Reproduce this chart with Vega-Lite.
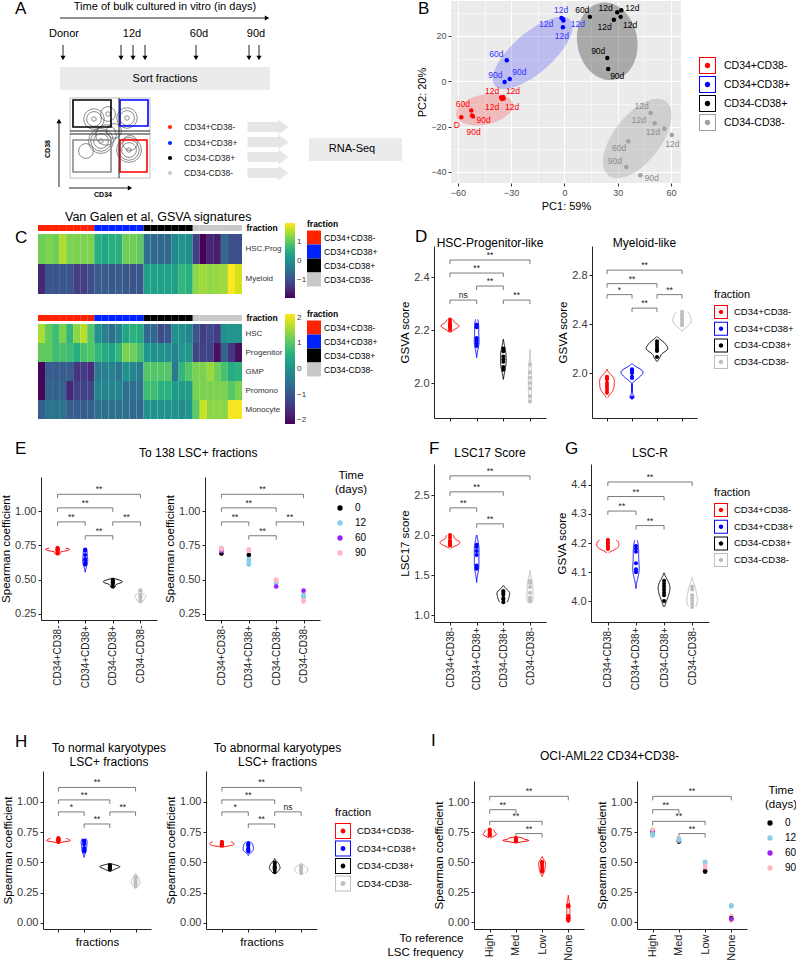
{
"$schema":"https://vega.github.io/schema/vega-lite/v6.json",
"padding":0,
"autosize":{"type":"pad"},
"background":"white",
"config":{"font":"Liberation Sans","view":{"stroke":null},
"axis":{"domainColor":"#222222","tickColor":"#222222","labelColor":"#3a3a3a","titleColor":"#000000","titleFontWeight":"normal","grid":false,"tickSize":3,"labelFontSize":11,"titleFontSize":11.5,"titlePadding":3,"labelPadding":2},
"legend":{"titleFontWeight":"normal","labelColor":"#000000","titleColor":"#000000"},
"title":{"fontWeight":"normal","fontSize":12,"color":"#000000"}},
"datasets":{
"pca":[
{"f":"CD34+CD38-","t":"D","x":-58.1,"y":-15.9,"lx":-60.6,"ly":-19.4},
{"f":"CD34+CD38-","t":"60d","x":-52.5,"y":-12.9,"lx":-57.2,"ly":-10.0},
{"f":"CD34+CD38-","t":"90d","x":-52.1,"y":-15.1,"lx":-45.5,"ly":-16.9},
{"f":"CD34+CD38-","t":"90d","x":-51.5,"y":-15.6,"lx":-51.2,"ly":-22.5},
{"f":"CD34+CD38-","t":"12d","x":-35.7,"y":-7.2,"lx":-40.8,"ly":-4.1},
{"f":"CD34+CD38-","t":"12d","x":-34.6,"y":-6.9,"lx":-29.0,"ly":-4.1},
{"f":"CD34+CD38-","t":"12d","x":-35.2,"y":-7.8,"lx":-40.8,"ly":-11.5},
{"f":"CD34+CD38-","t":"12d","x":-34.2,"y":-7.6,"lx":-29.5,"ly":-11.5},
{"f":"CD34+CD38+","t":"12d","x":-1.7,"y":27.9,"lx":-1.9,"ly":31.3},
{"f":"CD34+CD38+","t":"12d","x":-0.9,"y":27.5,"lx":-10.3,"ly":25.4},
{"f":"CD34+CD38+","t":"12d","x":-0.6,"y":26.8,"lx":7.5,"ly":25.4},
{"f":"CD34+CD38+","t":"12d","x":-0.9,"y":23.8,"lx":-1.5,"ly":20.1},
{"f":"CD34+CD38+","t":"60d","x":-32.5,"y":9.3,"lx":-38.4,"ly":12.2},
{"f":"CD34+CD38+","t":"90d","x":-33.7,"y":-0.3,"lx":-38.9,"ly":2.9},
{"f":"CD34+CD38+","t":"90d","x":-30.8,"y":1.0,"lx":-25.4,"ly":4.0},
{"f":"CD34-CD38+","t":"60d","x":14.3,"y":28.4,"lx":10.0,"ly":31.3},
{"f":"CD34-CD38+","t":"12d","x":29.7,"y":30.4,"lx":23.1,"ly":32.4},
{"f":"CD34-CD38+","t":"12d","x":32.0,"y":31.3,"lx":38.2,"ly":32.4},
{"f":"CD34-CD38+","t":"12d","x":31.6,"y":28.4,"lx":36.9,"ly":25.0},
{"f":"CD34-CD38+","t":"12d","x":27.8,"y":27.1,"lx":22.6,"ly":23.8},
{"f":"CD34-CD38+","t":"90d","x":24.1,"y":10.3,"lx":19.0,"ly":13.2},
{"f":"CD34-CD38+","t":"90d","x":24.6,"y":5.4,"lx":29.7,"ly":2.2},
{"f":"CD34-CD38-","t":"12d","x":48.5,"y":-14.0,"lx":43.4,"ly":-11.0},
{"f":"CD34-CD38-","t":"12d","x":50.8,"y":-18.5,"lx":41.9,"ly":-16.9},
{"f":"CD34-CD38-","t":"12d","x":56.2,"y":-21.0,"lx":49.8,"ly":-22.5},
{"f":"CD34-CD38-","t":"12d","x":60.4,"y":-23.7,"lx":60.7,"ly":-27.9},
{"f":"CD34-CD38-","t":"60d","x":35.9,"y":-26.5,"lx":30.7,"ly":-29.4},
{"f":"CD34-CD38-","t":"90d","x":34.8,"y":-37.8,"lx":28.4,"ly":-35.0},
{"f":"CD34-CD38-","t":"90d","x":42.7,"y":-41.5,"lx":49.1,"ly":-42.6}],
"hm1":[
{"s":1,"f":"CD34+CD38-","hp":1.1,"my":-1.5},{"s":2,"f":"CD34+CD38-","hp":1.2,"my":-0.9},{"s":3,"f":"CD34+CD38-","hp":1.1,"my":-0.9},{"s":4,"f":"CD34+CD38-","hp":1.5,"my":-0.9},{"s":5,"f":"CD34+CD38-","hp":1.2,"my":-0.9},{"s":6,"f":"CD34+CD38-","hp":1.2,"my":-1.2},{"s":7,"f":"CD34+CD38-","hp":1.2,"my":-1.2},{"s":8,"f":"CD34+CD38-","hp":1.2,"my":-1.0},
{"s":9,"f":"CD34+CD38+","hp":0.5,"my":-0.8},{"s":10,"f":"CD34+CD38+","hp":0.4,"my":-0.8},{"s":11,"f":"CD34+CD38+","hp":0.5,"my":-0.85},{"s":12,"f":"CD34+CD38+","hp":0.5,"my":-0.8},{"s":13,"f":"CD34+CD38+","hp":1.1,"my":-0.85},{"s":14,"f":"CD34+CD38+","hp":1.1,"my":-0.9},{"s":15,"f":"CD34+CD38+","hp":1.0,"my":-0.9},
{"s":16,"f":"CD34-CD38+","hp":-0.5,"my":0.3},{"s":17,"f":"CD34-CD38+","hp":-0.6,"my":0.3},{"s":18,"f":"CD34-CD38+","hp":-0.6,"my":0.3},{"s":19,"f":"CD34-CD38+","hp":-0.6,"my":0.3},{"s":20,"f":"CD34-CD38+","hp":-0.1,"my":0.3},{"s":21,"f":"CD34-CD38+","hp":0.1,"my":0.65},{"s":22,"f":"CD34-CD38+","hp":0.0,"my":0.5},
{"s":23,"f":"CD34-CD38-","hp":-1.2,"my":1.3},{"s":24,"f":"CD34-CD38-","hp":-1.9,"my":1.4},{"s":25,"f":"CD34-CD38-","hp":-1.5,"my":1.3},{"s":26,"f":"CD34-CD38-","hp":-1.6,"my":1.35},{"s":27,"f":"CD34-CD38-","hp":-0.6,"my":1.4},{"s":28,"f":"CD34-CD38-","hp":-1.0,"my":1.95},{"s":29,"f":"CD34-CD38-","hp":-1.0,"my":1.7}],
"hm2":[
{"s":1,"f":"CD34+CD38-","HSC":1.6,"Progenitor":1.1,"GMP":-2.1,"Promono":-2.1,"Monocyte":-0.9},
{"s":2,"f":"CD34+CD38-","HSC":1.1,"Progenitor":1.1,"GMP":-0.9,"Promono":-0.8,"Monocyte":-0.5},
{"s":3,"f":"CD34+CD38-","HSC":0.8,"Progenitor":0.8,"GMP":-0.9,"Promono":-0.8,"Monocyte":-0.5},
{"s":4,"f":"CD34+CD38-","HSC":1.3,"Progenitor":0.9,"GMP":-0.9,"Promono":-0.8,"Monocyte":-0.5},
{"s":5,"f":"CD34+CD38-","HSC":0.7,"Progenitor":0.8,"GMP":-0.9,"Promono":-1.7,"Monocyte":-0.9},
{"s":6,"f":"CD34+CD38-","HSC":1.4,"Progenitor":0.5,"GMP":-1.5,"Promono":-1.3,"Monocyte":-0.9},
{"s":7,"f":"CD34+CD38-","HSC":1.7,"Progenitor":0.9,"GMP":-1.4,"Promono":-1.3,"Monocyte":-0.9},
{"s":8,"f":"CD34+CD38-","HSC":1.0,"Progenitor":1.0,"GMP":-1.6,"Promono":-1.3,"Monocyte":-0.8},
{"s":9,"f":"CD34+CD38+","HSC":0.0,"Progenitor":0.7,"GMP":-0.4,"Promono":-0.2,"Monocyte":-0.6},
{"s":10,"f":"CD34+CD38+","HSC":-0.3,"Progenitor":0.5,"GMP":-0.3,"Promono":-0.2,"Monocyte":-0.6},
{"s":11,"f":"CD34+CD38+","HSC":-0.6,"Progenitor":0.4,"GMP":-0.3,"Promono":-0.2,"Monocyte":-0.6},
{"s":12,"f":"CD34+CD38+","HSC":-0.2,"Progenitor":0.7,"GMP":-0.5,"Promono":-0.2,"Monocyte":-0.6},
{"s":13,"f":"CD34+CD38+","HSC":0.4,"Progenitor":1.3,"GMP":0.0,"Promono":-0.6,"Monocyte":-0.6},
{"s":14,"f":"CD34+CD38+","HSC":0.6,"Progenitor":1.2,"GMP":-0.2,"Promono":-0.6,"Monocyte":-0.7},
{"s":15,"f":"CD34+CD38+","HSC":0.5,"Progenitor":0.9,"GMP":-0.4,"Promono":-0.6,"Monocyte":-0.7},
{"s":16,"f":"CD34-CD38+","HSC":-0.7,"Progenitor":0.1,"GMP":1.0,"Promono":0.8,"Monocyte":0.0},
{"s":17,"f":"CD34-CD38+","HSC":-0.7,"Progenitor":0.0,"GMP":1.0,"Promono":0.8,"Monocyte":0.0},
{"s":18,"f":"CD34-CD38+","HSC":-1.2,"Progenitor":0.0,"GMP":1.0,"Promono":0.6,"Monocyte":0.0},
{"s":19,"f":"CD34-CD38+","HSC":-1.0,"Progenitor":0.0,"GMP":1.0,"Promono":0.6,"Monocyte":0.0},
{"s":20,"f":"CD34-CD38+","HSC":0.0,"Progenitor":-0.3,"GMP":-0.4,"Promono":0.2,"Monocyte":0.0},
{"s":21,"f":"CD34-CD38+","HSC":0.0,"Progenitor":0.1,"GMP":0.7,"Promono":0.2,"Monocyte":-0.1},
{"s":22,"f":"CD34-CD38+","HSC":-0.2,"Progenitor":0.1,"GMP":1.0,"Promono":0.2,"Monocyte":0.1},
{"s":23,"f":"CD34-CD38-","HSC":-1.0,"Progenitor":-1.3,"GMP":1.3,"Promono":1.3,"Monocyte":1.1},
{"s":24,"f":"CD34-CD38-","HSC":-1.4,"Progenitor":-1.3,"GMP":1.3,"Promono":1.3,"Monocyte":1.8},
{"s":25,"f":"CD34-CD38-","HSC":-1.2,"Progenitor":-1.3,"GMP":1.5,"Promono":1.3,"Monocyte":1.4},
{"s":26,"f":"CD34-CD38-","HSC":-1.4,"Progenitor":-2.0,"GMP":1.2,"Promono":1.3,"Monocyte":1.4},
{"s":27,"f":"CD34-CD38-","HSC":0.0,"Progenitor":-0.8,"GMP":0.9,"Promono":1.3,"Monocyte":1.4},
{"s":28,"f":"CD34-CD38-","HSC":0.1,"Progenitor":-1.5,"GMP":0.5,"Promono":1.0,"Monocyte":2.1},
{"s":29,"f":"CD34-CD38-","HSC":0.1,"Progenitor":-2.0,"GMP":0.6,"Promono":1.3,"Monocyte":2.1}],
"d1":[
{"f":"CD34+CD38-","v":2.20},{"f":"CD34+CD38-","v":2.21},{"f":"CD34+CD38-","v":2.22},{"f":"CD34+CD38-","v":2.22},{"f":"CD34+CD38-","v":2.23},{"f":"CD34+CD38-","v":2.24},{"f":"CD34+CD38-","v":2.21},{"f":"CD34+CD38-","v":2.215},
{"f":"CD34+CD38+","v":2.22},{"f":"CD34+CD38+","v":2.22},{"f":"CD34+CD38+","v":2.21},{"f":"CD34+CD38+","v":2.17},{"f":"CD34+CD38+","v":2.16},{"f":"CD34+CD38+","v":2.15},{"f":"CD34+CD38+","v":2.14},
{"f":"CD34-CD38+","v":2.13},{"f":"CD34-CD38+","v":2.12},{"f":"CD34-CD38+","v":2.10},{"f":"CD34-CD38+","v":2.09},{"f":"CD34-CD38+","v":2.08},{"f":"CD34-CD38+","v":2.06},{"f":"CD34-CD38+","v":2.05},
{"f":"CD34-CD38-","v":2.07},{"f":"CD34-CD38-","v":2.04},{"f":"CD34-CD38-","v":2.02},{"f":"CD34-CD38-","v":2.00},{"f":"CD34-CD38-","v":1.98},{"f":"CD34-CD38-","v":1.95},{"f":"CD34-CD38-","v":1.93}],
"d2":[
{"f":"CD34+CD38-","v":1.97},{"f":"CD34+CD38-","v":1.96},{"f":"CD34+CD38-","v":1.95},{"f":"CD34+CD38-","v":1.92},{"f":"CD34+CD38-","v":1.90},{"f":"CD34+CD38-","v":1.88},{"f":"CD34+CD38-","v":1.86},{"f":"CD34+CD38-","v":1.84},
{"f":"CD34+CD38+","v":2.03},{"f":"CD34+CD38+","v":2.02},{"f":"CD34+CD38+","v":2.01},{"f":"CD34+CD38+","v":2.00},{"f":"CD34+CD38+","v":1.97},{"f":"CD34+CD38+","v":1.96},{"f":"CD34+CD38+","v":1.80},
{"f":"CD34-CD38+","v":2.26},{"f":"CD34-CD38+","v":2.24},{"f":"CD34-CD38+","v":2.22},{"f":"CD34-CD38+","v":2.20},{"f":"CD34-CD38+","v":2.19},{"f":"CD34-CD38+","v":2.18},{"f":"CD34-CD38+","v":2.13},
{"f":"CD34-CD38-","v":2.50},{"f":"CD34-CD38-","v":2.48},{"f":"CD34-CD38-","v":2.46},{"f":"CD34-CD38-","v":2.44},{"f":"CD34-CD38-","v":2.42},{"f":"CD34-CD38-","v":2.40},{"f":"CD34-CD38-","v":2.39}],
"ev":[
{"f":"CD34+CD38-","t":0,"v":0.69},{"f":"CD34+CD38-","t":12,"v":0.71},{"f":"CD34+CD38-","t":12,"v":0.72},{"f":"CD34+CD38-","t":12,"v":0.72},{"f":"CD34+CD38-","t":12,"v":0.73},{"f":"CD34+CD38-","t":60,"v":0.71},{"f":"CD34+CD38-","t":90,"v":0.73},{"f":"CD34+CD38-","t":90,"v":0.72},
{"f":"CD34+CD38+","t":0,"v":0.68},{"f":"CD34+CD38+","t":12,"v":0.61},{"f":"CD34+CD38+","t":12,"v":0.62},{"f":"CD34+CD38+","t":12,"v":0.64},{"f":"CD34+CD38+","t":12,"v":0.65},{"f":"CD34+CD38+","t":90,"v":0.71},{"f":"CD34+CD38+","t":90,"v":0.72},
{"f":"CD34-CD38+","t":12,"v":0.48},{"f":"CD34-CD38+","t":12,"v":0.48},{"f":"CD34-CD38+","t":12,"v":0.49},{"f":"CD34-CD38+","t":12,"v":0.47},{"f":"CD34-CD38+","t":60,"v":0.45},{"f":"CD34-CD38+","t":90,"v":0.50},{"f":"CD34-CD38+","t":90,"v":0.49},
{"f":"CD34-CD38-","t":12,"v":0.39},{"f":"CD34-CD38-","t":12,"v":0.38},{"f":"CD34-CD38-","t":12,"v":0.37},{"f":"CD34-CD38-","t":12,"v":0.38},{"f":"CD34-CD38-","t":60,"v":0.42},{"f":"CD34-CD38-","t":90,"v":0.35},{"f":"CD34-CD38-","t":90,"v":0.34}],
"fv":[
{"f":"CD34+CD38-","v":2.00},{"f":"CD34+CD38-","v":1.97},{"f":"CD34+CD38-","v":1.93},{"f":"CD34+CD38-","v":1.92},{"f":"CD34+CD38-","v":1.91},{"f":"CD34+CD38-","v":1.90},{"f":"CD34+CD38-","v":1.88},{"f":"CD34+CD38-","v":1.87},
{"f":"CD34+CD38+","v":1.88},{"f":"CD34+CD38+","v":1.85},{"f":"CD34+CD38+","v":1.80},{"f":"CD34+CD38+","v":1.75},{"f":"CD34+CD38+","v":1.62},{"f":"CD34+CD38+","v":1.60},{"f":"CD34+CD38+","v":1.58},
{"f":"CD34-CD38+","v":1.30},{"f":"CD34-CD38+","v":1.29},{"f":"CD34-CD38+","v":1.27},{"f":"CD34-CD38+","v":1.25},{"f":"CD34-CD38+","v":1.21},{"f":"CD34-CD38+","v":1.19},{"f":"CD34-CD38+","v":1.16},
{"f":"CD34-CD38-","v":1.43},{"f":"CD34-CD38-","v":1.40},{"f":"CD34-CD38-","v":1.35},{"f":"CD34-CD38-","v":1.28},{"f":"CD34-CD38-","v":1.22},{"f":"CD34-CD38-","v":1.20},{"f":"CD34-CD38-","v":1.17}],
"gv":[
{"f":"CD34+CD38-","v":4.21},{"f":"CD34+CD38-","v":4.21},{"f":"CD34+CD38-","v":4.20},{"f":"CD34+CD38-","v":4.20},{"f":"CD34+CD38-","v":4.19},{"f":"CD34+CD38-","v":4.19},{"f":"CD34+CD38-","v":4.18},{"f":"CD34+CD38-","v":4.18},
{"f":"CD34+CD38+","v":4.19},{"f":"CD34+CD38+","v":4.18},{"f":"CD34+CD38+","v":4.17},{"f":"CD34+CD38+","v":4.13},{"f":"CD34+CD38+","v":4.11},{"f":"CD34+CD38+","v":4.10},{"f":"CD34+CD38+","v":4.10},
{"f":"CD34-CD38+","v":4.07},{"f":"CD34-CD38+","v":4.06},{"f":"CD34-CD38+","v":4.05},{"f":"CD34-CD38+","v":4.04},{"f":"CD34-CD38+","v":4.03},{"f":"CD34-CD38+","v":4.02},{"f":"CD34-CD38+","v":4.00},
{"f":"CD34-CD38-","v":4.05},{"f":"CD34-CD38-","v":4.04},{"f":"CD34-CD38-","v":4.02},{"f":"CD34-CD38-","v":4.01},{"f":"CD34-CD38-","v":4.00},{"f":"CD34-CD38-","v":3.99},{"f":"CD34-CD38-","v":3.98}],
"h1":[
{"f":"CD34+CD38-","v":0.70},{"f":"CD34+CD38-","v":0.70},{"f":"CD34+CD38-","v":0.69},{"f":"CD34+CD38-","v":0.69},{"f":"CD34+CD38-","v":0.68},{"f":"CD34+CD38-","v":0.68},{"f":"CD34+CD38-","v":0.68},{"f":"CD34+CD38-","v":0.67},
{"f":"CD34+CD38+","v":0.68},{"f":"CD34+CD38+","v":0.68},{"f":"CD34+CD38+","v":0.67},{"f":"CD34+CD38+","v":0.65},{"f":"CD34+CD38+","v":0.62},{"f":"CD34+CD38+","v":0.60},{"f":"CD34+CD38+","v":0.59},
{"f":"CD34-CD38+","v":0.48},{"f":"CD34-CD38+","v":0.47},{"f":"CD34-CD38+","v":0.47},{"f":"CD34-CD38+","v":0.46},{"f":"CD34-CD38+","v":0.46},{"f":"CD34-CD38+","v":0.45},{"f":"CD34-CD38+","v":0.44},
{"f":"CD34-CD38-","v":0.38},{"f":"CD34-CD38-","v":0.37},{"f":"CD34-CD38-","v":0.35},{"f":"CD34-CD38-","v":0.34},{"f":"CD34-CD38-","v":0.33},{"f":"CD34-CD38-","v":0.32},{"f":"CD34-CD38-","v":0.30}],
"h2":[
{"f":"CD34+CD38-","v":0.67},{"f":"CD34+CD38-","v":0.67},{"f":"CD34+CD38-","v":0.66},{"f":"CD34+CD38-","v":0.66},{"f":"CD34+CD38-","v":0.65},{"f":"CD34+CD38-","v":0.65},{"f":"CD34+CD38-","v":0.64},{"f":"CD34+CD38-","v":0.64},
{"f":"CD34+CD38+","v":0.66},{"f":"CD34+CD38+","v":0.65},{"f":"CD34+CD38+","v":0.64},{"f":"CD34+CD38+","v":0.62},{"f":"CD34+CD38+","v":0.61},{"f":"CD34+CD38+","v":0.60},{"f":"CD34+CD38+","v":0.59},
{"f":"CD34-CD38+","v":0.50},{"f":"CD34-CD38+","v":0.49},{"f":"CD34-CD38+","v":0.47},{"f":"CD34-CD38+","v":0.46},{"f":"CD34-CD38+","v":0.45},{"f":"CD34-CD38+","v":0.44},{"f":"CD34-CD38+","v":0.42},
{"f":"CD34-CD38-","v":0.47},{"f":"CD34-CD38-","v":0.46},{"f":"CD34-CD38-","v":0.45},{"f":"CD34-CD38-","v":0.44},{"f":"CD34-CD38-","v":0.43},{"f":"CD34-CD38-","v":0.42},{"f":"CD34-CD38-","v":0.41}],
"iv":[
{"c":"High","t":0,"v":0.75},{"c":"High","t":60,"v":0.76},{"c":"High","t":90,"v":0.77},{"c":"High","t":12,"v":0.72},{"c":"High","t":12,"v":0.73},{"c":"High","t":12,"v":0.735},{"c":"High","t":12,"v":0.725},
{"c":"Med","t":0,"v":0.67},{"c":"Med","t":60,"v":0.68},{"c":"Med","t":90,"v":0.70},{"c":"Med","t":12,"v":0.69},{"c":"Med","t":12,"v":0.68},
{"c":"Low","t":12,"v":0.50},{"c":"Low","t":12,"v":0.50},{"c":"Low","t":12,"v":0.49},{"c":"Low","t":60,"v":0.43},{"c":"Low","t":90,"v":0.45},{"c":"Low","t":90,"v":0.47},{"c":"Low","t":0,"v":0.42},
{"c":"None","t":12,"v":0.14},{"c":"None","t":12,"v":0.13},{"c":"None","t":12,"v":0.135},{"c":"None","t":90,"v":0.05},{"c":"None","t":90,"v":0.01},{"c":"None","t":0,"v":0.03},{"c":"None","t":60,"v":0.025}],
"bD1":[{"a":"CD34+CD38-","b":"CD34-CD38-","s":3,"y":2.464,"l":"**"},{"a":"CD34+CD38-","b":"CD34-CD38+","s":2,"y":2.415,"l":"**"},{"a":"CD34+CD38+","b":"CD34-CD38+","s":1,"y":2.366,"l":"**"},{"a":"CD34+CD38-","b":"CD34+CD38+","s":1,"y":2.313,"l":"ns"},{"a":"CD34-CD38+","b":"CD34-CD38-","s":1,"y":2.313,"l":"**"}],
"bD2":[{"a":"CD34+CD38-","b":"CD34-CD38-","s":3,"y":2.84,"l":"**"},{"a":"CD34+CD38-","b":"CD34-CD38+","s":2,"y":2.73,"l":"**"},{"a":"CD34+CD38-","b":"CD34+CD38+","s":1,"y":2.64,"l":"*"},{"a":"CD34-CD38+","b":"CD34-CD38-","s":1,"y":2.64,"l":"**"},{"a":"CD34+CD38+","b":"CD34-CD38+","s":1,"y":2.53,"l":"**"}],
"bE":[{"a":"CD34+CD38-","b":"CD34-CD38-","s":3,"y":1.122,"l":"**"},{"a":"CD34+CD38-","b":"CD34-CD38+","s":2,"y":1.023,"l":"**"},{"a":"CD34+CD38-","b":"CD34+CD38+","s":1,"y":0.921,"l":"**"},{"a":"CD34-CD38+","b":"CD34-CD38-","s":1,"y":0.921,"l":"**"},{"a":"CD34+CD38+","b":"CD34-CD38+","s":1,"y":0.82,"l":"**"}],
"bF":[{"a":"CD34+CD38-","b":"CD34-CD38-","s":3,"y":2.74,"l":"**"},{"a":"CD34+CD38-","b":"CD34-CD38+","s":2,"y":2.54,"l":"**"},{"a":"CD34+CD38-","b":"CD34+CD38+","s":1,"y":2.34,"l":"**"},{"a":"CD34+CD38+","b":"CD34-CD38+","s":1,"y":2.14,"l":"**"}],
"bG":[{"a":"CD34+CD38-","b":"CD34-CD38-","s":3,"y":4.41,"l":"**"},{"a":"CD34+CD38-","b":"CD34-CD38+","s":2,"y":4.36,"l":"**"},{"a":"CD34+CD38-","b":"CD34+CD38+","s":1,"y":4.31,"l":"**"},{"a":"CD34+CD38+","b":"CD34-CD38+","s":1,"y":4.26,"l":"**"}],
"bH1":[{"a":"CD34+CD38-","b":"CD34-CD38-","s":3,"y":1.12,"l":"**"},{"a":"CD34+CD38-","b":"CD34-CD38+","s":2,"y":1.017,"l":"**"},{"a":"CD34+CD38-","b":"CD34+CD38+","s":1,"y":0.918,"l":"*"},{"a":"CD34-CD38+","b":"CD34-CD38-","s":1,"y":0.918,"l":"**"},{"a":"CD34+CD38+","b":"CD34-CD38+","s":1,"y":0.818,"l":"**"}],
"bH2":[{"a":"CD34+CD38-","b":"CD34-CD38-","s":3,"y":1.12,"l":"**"},{"a":"CD34+CD38-","b":"CD34-CD38+","s":2,"y":1.017,"l":"**"},{"a":"CD34+CD38-","b":"CD34+CD38+","s":1,"y":0.918,"l":"*"},{"a":"CD34-CD38+","b":"CD34-CD38-","s":1,"y":0.918,"l":"ns"},{"a":"CD34+CD38+","b":"CD34-CD38+","s":1,"y":0.818,"l":"**"}],
"bI":[{"a":"High","b":"None","s":3,"y":1.047,"l":"**"},{"a":"High","b":"Med","s":1,"y":0.936,"l":"**"},{"a":"High","b":"Low","s":2,"y":0.839,"l":"**"},{"a":"Med","b":"Low","s":1,"y":0.737,"l":"**"}]
},
"bounds":"flush","spacing":0,
"resolve":{"scale":{"color":"independent","fill":"independent","stroke":"independent","xOffset":"independent","shape":"independent","size":"independent"}},
"vconcat":[
{"bounds":"flush","spacing":0,"resolve":{"scale":{"color":"independent","fill":"independent","stroke":"independent","xOffset":"independent","shape":"independent","size":"independent"}},
"hconcat":[
{"width":400,"height":197,
"title":{"text":"A","anchor":"start","frame":"group","fontSize":17,"offset":0,"dx":13,"dy":30,"baseline":"alphabetic"},
"layer":[
{"data":{"values":[{"x":58,"x2":268,"y":66,"y2":89},{"x":307,"x2":400,"y":137,"y2":160}]},"mark":{"type":"rect","fill":"#ebebeb"},
"encoding":{"x":{"field":"x","type":"quantitative","scale":{"domain":[0,400],"nice":false,"zero":false},"axis":null},"x2":{"field":"x2"},"y":{"field":"y","type":"quantitative","scale":{"domain":[0,197],"nice":false,"zero":false,"reverse":true},"axis":null},"y2":{"field":"y2"}}},
{"data":{"values":[{"x":68,"x2":148,"y":97,"y2":177}]},"mark":{"type":"rect","fill":"#ffffff","stroke":"#b0b0b0","strokeWidth":0.8},
"encoding":{"x":{"field":"x","type":"quantitative","scale":{"domain":[0,400],"nice":false,"zero":false},"axis":null},"x2":{"field":"x2"},"y":{"field":"y","type":"quantitative","scale":{"domain":[0,197],"nice":false,"zero":false,"reverse":true},"axis":null},"y2":{"field":"y2"}}},
{"data":{"values":[{"x":92,"y":118,"lv":3},{"x":92,"y":118,"lv":2},{"x":92,"y":118,"lv":1},{"x":106,"y":113,"lv":2},{"x":106,"y":113,"lv":1},{"x":125,"y":117,"lv":3},{"x":125,"y":117,"lv":2},{"x":125,"y":117,"lv":1},{"x":99,"y":140,"lv":4},{"x":99,"y":140,"lv":3},{"x":99,"y":140,"lv":2},{"x":99,"y":140,"lv":1},{"x":127,"y":149,"lv":4},{"x":127,"y":149,"lv":3},{"x":127,"y":149,"lv":2},{"x":127,"y":149,"lv":1},{"x":112,"y":130,"lv":2},{"x":84,"y":150,"lv":2},{"x":104,"y":134,"lv":3},{"x":128,"y":142,"lv":2}]},
"mark":{"type":"point","filled":false,"stroke":"#4a4a4a","strokeWidth":0.9},
"encoding":{"x":{"field":"x","type":"quantitative","scale":{"domain":[0,400],"nice":false,"zero":false},"axis":null},"y":{"field":"y","type":"quantitative","scale":{"domain":[0,197],"nice":false,"zero":false,"reverse":true},"axis":null},"size":{"field":"lv","type":"quantitative","scale":{"domain":[1,4],"range":[20,620]},"legend":null}}},
{"data":{"values":[{"f":"CD34-CD38+","x":71,"x2":109,"y":99,"y2":126},{"f":"CD34+CD38+","x":118,"x2":146,"y":99,"y2":125},{"f":"CD34-CD38-","x":71,"x2":109,"y":139,"y2":171},{"f":"CD34+CD38-","x":118,"x2":145,"y":139,"y2":171}]},
"mark":{"type":"rect","filled":false,"strokeWidth":1.6},
"encoding":{"x":{"field":"x","type":"quantitative","scale":{"domain":[0,400],"nice":false,"zero":false},"axis":null},"x2":{"field":"x2"},"y":{"field":"y","type":"quantitative","scale":{"domain":[0,197],"nice":false,"zero":false,"reverse":true},"axis":null},"y2":{"field":"y2"},
"stroke":{"field":"f","type":"nominal","scale":{"domain":["CD34+CD38-","CD34+CD38+","CD34-CD38+","CD34-CD38-"],"range":["#ff0000","#0000ff","#000000","#8a8a8a"]},"legend":null}}},
{"data":{"values":[{"x":58,"y":17,"x2":263,"y2":17},{"x":61,"y":44,"x2":61,"y2":55},{"x":119,"y":44,"x2":119,"y2":55},{"x":131,"y":44,"x2":131,"y2":55},{"x":143,"y":44,"x2":143,"y2":55},{"x":194,"y":44,"x2":194,"y2":55},{"x":247,"y":44,"x2":247,"y2":55},{"x":257,"y":44,"x2":257,"y2":55},{"x":117,"y":97,"x2":117,"y2":177},{"x":68,"y":130,"x2":148,"y2":130},{"x":68,"y":133,"x2":148,"y2":133},{"x":57,"y":186,"x2":57,"y2":122},{"x":67,"y":187,"x2":126,"y2":187}]},
"mark":{"type":"rule","color":"#222222","strokeWidth":1},
"encoding":{"x":{"field":"x","type":"quantitative","scale":{"domain":[0,400],"nice":false,"zero":false},"axis":null},"x2":{"field":"x2"},"y":{"field":"y","type":"quantitative","scale":{"domain":[0,197],"nice":false,"zero":false,"reverse":true},"axis":null},"y2":{"field":"y2"}}},
{"data":{"values":[{"x":265,"y":17,"d":"right"},{"x":61,"y":57,"d":"down"},{"x":119,"y":57,"d":"down"},{"x":131,"y":57,"d":"down"},{"x":143,"y":57,"d":"down"},{"x":194,"y":57,"d":"down"},{"x":247,"y":57,"d":"down"},{"x":257,"y":57,"d":"down"},{"x":57,"y":120,"d":"up"},{"x":128,"y":187,"d":"right"}]},
"mark":{"type":"point","filled":true,"color":"#000000","size":26,"opacity":1},
"encoding":{"x":{"field":"x","type":"quantitative","scale":{"domain":[0,400],"nice":false,"zero":false},"axis":null},"y":{"field":"y","type":"quantitative","scale":{"domain":[0,197],"nice":false,"zero":false,"reverse":true},"axis":null},
"shape":{"field":"d","type":"nominal","scale":{"domain":["right","down","up"],"range":["triangle-right","triangle-down","triangle-up"]},"legend":null}}},
{"data":{"values":[{"x":266,"y":126},{"x":266,"y":141},{"x":266,"y":156},{"x":266,"y":172}]},
"mark":{"type":"point","filled":true,"shape":"M -1 -0.24 L 0.5 -0.24 L 0.5 -0.36 L 1 0 L 0.5 0.36 L 0.5 0.24 L -1 0.24 Z","size":1681,"color":"#e6e6e6","opacity":1},
"encoding":{"x":{"field":"x","type":"quantitative","scale":{"domain":[0,400],"nice":false,"zero":false},"axis":null},"y":{"field":"y","type":"quantitative","scale":{"domain":[0,197],"nice":false,"zero":false,"reverse":true},"axis":null}}},
{"data":{"values":[{"f":"CD34+CD38-","x":168,"y":126},{"f":"CD34+CD38+","x":168,"y":142},{"f":"CD34-CD38+","x":168,"y":157},{"f":"CD34-CD38-","x":168,"y":172}]},
"mark":{"type":"point","filled":true,"size":18,"opacity":1},
"encoding":{"x":{"field":"x","type":"quantitative","scale":{"domain":[0,400],"nice":false,"zero":false},"axis":null},"y":{"field":"y","type":"quantitative","scale":{"domain":[0,197],"nice":false,"zero":false,"reverse":true},"axis":null},
"fill":{"field":"f","type":"nominal","scale":{"domain":["CD34+CD38-","CD34+CD38+","CD34-CD38+","CD34-CD38-"],"range":["#ff2a00","#0033ff","#000000","#c8c8c8"]},"legend":null}}},
{"data":{"values":[{"t":"Time of bulk cultured in vitro (in days)","x":163,"y":6},{"t":"Donor","x":62,"y":33},{"t":"12d","x":130,"y":33},{"t":"60d","x":197,"y":33},{"t":"90d","x":254,"y":33},{"t":"Sort fractions","x":163,"y":78},{"t":"RNA-Seq","x":350,"y":148}]},
"mark":{"type":"text","fontSize":11,"baseline":"middle","align":"center"},
"encoding":{"x":{"field":"x","type":"quantitative","scale":{"domain":[0,400],"nice":false,"zero":false},"axis":null},"y":{"field":"y","type":"quantitative","scale":{"domain":[0,197],"nice":false,"zero":false,"reverse":true},"axis":null},"text":{"field":"t"}}},
{"data":{"values":[{"t":"CD34+CD38-","x":182,"y":126},{"t":"CD34+CD38+","x":182,"y":142},{"t":"CD34-CD38+","x":182,"y":157},{"t":"CD34-CD38-","x":182,"y":172}]},
"mark":{"type":"text","fontSize":8.5,"baseline":"middle","align":"left","color":"#222222"},
"encoding":{"x":{"field":"x","type":"quantitative","scale":{"domain":[0,400],"nice":false,"zero":false},"axis":null},"y":{"field":"y","type":"quantitative","scale":{"domain":[0,197],"nice":false,"zero":false,"reverse":true},"axis":null},"text":{"field":"t"}}},
{"data":{"values":[{"t":"CD34","x":101,"y":194}]},
"mark":{"type":"text","fontSize":7,"fontWeight":"bold","baseline":"middle","align":"center"},
"encoding":{"x":{"field":"x","type":"quantitative","scale":{"domain":[0,400],"nice":false,"zero":false},"axis":null},"y":{"field":"y","type":"quantitative","scale":{"domain":[0,197],"nice":false,"zero":false,"reverse":true},"axis":null},"text":{"field":"t"}}},
{"data":{"values":[{"t":"CD38","x":46,"y":148}]},
"mark":{"type":"text","fontSize":7,"fontWeight":"bold","baseline":"middle","align":"center","angle":270},
"encoding":{"x":{"field":"x","type":"quantitative","scale":{"domain":[0,400],"nice":false,"zero":false},"axis":null},"y":{"field":"y","type":"quantitative","scale":{"domain":[0,197],"nice":false,"zero":false,"reverse":true},"axis":null},"text":{"field":"t"}}}
]},
{"width":49,"height":1,"data":{"values":[]},"mark":"point","encoding":{}},
{"width":230,"height":182,
"view":{"fill":"#ebebeb","stroke":null},
"title":{"text":"B","anchor":"start","frame":"group","fontSize":17,"offset":0,"dx":-33,"dy":30,"baseline":"alphabetic"},
"resolve":{"axis":{"x":"independent","y":"independent"}},
"layer":[
{"data":{"values":[{"x":-45,"y":-12.5}]},"mark":{"type":"point","filled":true,"shape":"M -1 0 A 1 0.52 0 1 0 1 0 A 1 0.52 0 1 0 -1 0 Z","size":3364,"angle":-12,"color":"#ff0000","opacity":0.2,"strokeWidth":0},
"encoding":{"x":{"field":"x","type":"quantitative","scale":{"domain":[-63.9,65.6],"nice":false,"zero":false},"title":"PC1: 59%","axis":{"values":[-60,-30,0,30,60],"grid":true,"gridColor":"#ffffff","gridWidth":1.1,"domain":false,"tickColor":"#333333","labelFontSize":9,"labelColor":"#4d4d4d","titleFontSize":11}},
"y":{"field":"y","type":"quantitative","scale":{"domain":[-44.9,35.4],"nice":false,"zero":false},"title":"PC2: 20%","axis":{"values":[-40,-20,0,20],"grid":true,"gridColor":"#ffffff","gridWidth":1.1,"domain":false,"tickColor":"#333333","labelFontSize":9,"labelColor":"#4d4d4d","titleFontSize":11}}}},
{"data":{"values":[{"x":-17.9,"y":12.5}]},"mark":{"type":"point","filled":true,"shape":"M -1 0 A 1 0.4 0 1 0 1 0 A 1 0.4 0 1 0 -1 0 Z","size":10000,"angle":-41,"color":"#0000ff","opacity":0.2,"strokeWidth":0},
"encoding":{"x":{"field":"x","type":"quantitative","scale":{"domain":[-63.9,65.6],"nice":false,"zero":false},"axis":null},"y":{"field":"y","type":"quantitative","scale":{"domain":[-44.9,35.4],"nice":false,"zero":false},"axis":null}}},
{"data":{"values":[{"x":24.1,"y":17.6}]},"mark":{"type":"point","filled":true,"shape":"M -1 0 A 1 0.77 0 1 0 1 0 A 1 0.77 0 1 0 -1 0 Z","size":6084,"angle":80,"color":"#000000","opacity":0.28,"strokeWidth":0},
"encoding":{"x":{"field":"x","type":"quantitative","scale":{"domain":[-63.9,65.6],"nice":false,"zero":false},"axis":null},"y":{"field":"y","type":"quantitative","scale":{"domain":[-44.9,35.4],"nice":false,"zero":false},"axis":null}}},
{"data":{"values":[{"x":41,"y":-25.3}]},"mark":{"type":"point","filled":true,"shape":"M -1 0 A 1 0.5 0 1 0 1 0 A 1 0.5 0 1 0 -1 0 Z","size":8836,"angle":-52,"color":"#9a9a9a","opacity":0.35,"strokeWidth":0},
"encoding":{"x":{"field":"x","type":"quantitative","scale":{"domain":[-63.9,65.6],"nice":false,"zero":false},"axis":null},"y":{"field":"y","type":"quantitative","scale":{"domain":[-44.9,35.4],"nice":false,"zero":false},"axis":null}}},
{"data":{"name":"pca"},"mark":{"type":"point","filled":true,"size":20,"opacity":1,"strokeWidth":0},
"encoding":{"x":{"field":"x","type":"quantitative","scale":{"domain":[-63.9,65.6],"nice":false,"zero":false},"axis":null},"y":{"field":"y","type":"quantitative","scale":{"domain":[-44.9,35.4],"nice":false,"zero":false},"axis":null},
"fill":{"field":"f","type":"nominal","scale":{"domain":["CD34+CD38-","CD34+CD38+","CD34-CD38+","CD34-CD38-"],"range":["#ff0000","#0000ff","#000000","#a0a0a0"]},"legend":{"orient":"none","legendX":248,"legendY":56,"title":null,"symbolType":"M -1 -1 L 1 -1 L 1 1 L -1 1 Z M -0.88 -0.88 L -0.88 0.88 L 0.88 0.88 L 0.88 -0.88 Z M -0.32 0 A 0.32 0.32 0 1 0 0.32 0 A 0.32 0.32 0 1 0 -0.32 0 Z","symbolSize":289,"symbolStrokeWidth":0,"rowPadding":2,"labelFontSize":10.5,"labelOffset":8}}}},
{"data":{"name":"pca"},"mark":{"type":"text","fontSize":8.5,"baseline":"middle"},
"encoding":{"x":{"field":"lx","type":"quantitative","scale":{"domain":[-63.9,65.6],"nice":false,"zero":false},"title":null,"axis":{"orient":"top","values":[-45,-15,15,45],"grid":true,"gridColor":"#ffffff","gridWidth":0.5,"labels":false,"ticks":false,"domain":false}},
"y":{"field":"ly","type":"quantitative","scale":{"domain":[-44.9,35.4],"nice":false,"zero":false},"title":null,"axis":{"orient":"right","values":[-30,-10,10,30],"grid":true,"gridColor":"#ffffff","gridWidth":0.5,"labels":false,"ticks":false,"domain":false}},
"text":{"field":"t"},
"color":{"field":"f","type":"nominal","scale":{"domain":["CD34+CD38-","CD34+CD38+","CD34-CD38+","CD34-CD38-"],"range":["#ff0000","#3333ff","#000000","#8c8c8c"]},"legend":null}}}
]}
]},
{"width":1,"height":224,"data":{"values":[]},"mark":"point","encoding":{}},
{"bounds":"flush","spacing":0,"resolve":{"scale":{"color":"independent","fill":"independent","stroke":"independent","xOffset":"independent","shape":"independent","size":"independent"}},
"hconcat":[
{"width":36,"height":1,"data":{"values":[]},"mark":"point","encoding":{},"title":{"text":"C","anchor":"start","frame":"group","fontSize":17,"offset":0,"dx":13,"dy":35,"baseline":"alphabetic"}},
{"bounds":"flush","spacing":0,"resolve":{"scale":{"color":"independent","fill":"independent","stroke":"independent","xOffset":"independent","shape":"independent","size":"independent"}},
"title":{"text":"Van Galen et al, GSVA signatures","fontSize":12.5,"anchor":"start","frame":"group","offset":2,"dx":27,"dy":15,"baseline":"alphabetic"},
"vconcat":[
{"width":204,"height":6,"data":{"name":"hm1"},"mark":{"type":"rect"},
"encoding":{"x":{"field":"s","type":"ordinal","axis":null,"scale":{"paddingInner":0,"paddingOuter":0}},
"y":{"datum":"fraction","type":"nominal","scale":{"paddingInner":0,"paddingOuter":0},"title":null,"axis":{"orient":"right","domain":false,"ticks":false,"labelFontWeight":"bold","labelFontSize":8.5,"labelColor":"#000000","labelPadding":4}},
"fill":{"field":"f","type":"nominal","scale":{"domain":["CD34+CD38-","CD34+CD38+","CD34-CD38+","CD34-CD38-"],"range":["#ff2200","#0022ff","#000000","#c8c8c8"]},
"legend":{"orient":"none","legendX":269,"legendY":-5,"title":"fraction","titleFontWeight":"bold","titleFontSize":8.5,"titlePadding":2,"symbolType":"square","symbolSize":196,"symbolStrokeWidth":0,"rowPadding":0,"labelFontSize":8.5,"labelOffset":3}}}},
{"width":1,"height":3,"data":{"values":[]},"mark":"point","encoding":{}},
{"width":204,"height":60,"data":{"name":"hm1"},"transform":[{"fold":["hp","my"],"as":["r","v"]}],"mark":{"type":"rect"},
"encoding":{"x":{"field":"s","type":"ordinal","axis":null,"scale":{"paddingInner":0,"paddingOuter":0}},
"y":{"field":"r","type":"nominal","sort":["hp","my"],"scale":{"paddingInner":0,"paddingOuter":0},"title":null,"axis":{"orient":"right","domain":false,"ticks":false,"labelFontSize":8,"labelColor":"#333333","labelPadding":3,"labelExpr":"datum.value == 'hp' ? 'HSC.Prog' : 'Myeloid'"}},
"fill":{"field":"v","type":"quantitative","scale":{"scheme":"viridis","domain":[-1.9,1.95]},"legend":{"orient":"none","legendX":247,"legendY":-11,"title":null,"gradientLength":75,"gradientThickness":10,"values":[-1,0,1],"labelFontSize":8,"labelColor":"#333333","labelOverlap":false,"direction":"vertical","gradientStrokeWidth":0}}}},
{"width":1,"height":21,"data":{"values":[]},"mark":"point","encoding":{}},
{"width":204,"height":6,"data":{"name":"hm2"},"mark":{"type":"rect"},
"encoding":{"x":{"field":"s","type":"ordinal","axis":null,"scale":{"paddingInner":0,"paddingOuter":0}},
"y":{"datum":"fraction","type":"nominal","scale":{"paddingInner":0,"paddingOuter":0},"title":null,"axis":{"orient":"right","domain":false,"ticks":false,"labelFontWeight":"bold","labelFontSize":8.5,"labelColor":"#000000","labelPadding":4}},
"fill":{"field":"f","type":"nominal","scale":{"domain":["CD34+CD38-","CD34+CD38+","CD34-CD38+","CD34-CD38-"],"range":["#ff2200","#0022ff","#000000","#c8c8c8"]},
"legend":{"orient":"none","legendX":269,"legendY":-5,"title":"fraction","titleFontWeight":"bold","titleFontSize":8.5,"titlePadding":2,"symbolType":"square","symbolSize":196,"symbolStrokeWidth":0,"rowPadding":0,"labelFontSize":8.5,"labelOffset":3}}}},
{"width":1,"height":3,"data":{"values":[]},"mark":"point","encoding":{}},
{"width":204,"height":95,"data":{"name":"hm2"},"transform":[{"fold":["HSC","Progenitor","GMP","Promono","Monocyte"],"as":["r","v"]}],"mark":{"type":"rect"},
"encoding":{"x":{"field":"s","type":"ordinal","axis":null,"scale":{"paddingInner":0,"paddingOuter":0}},
"y":{"field":"r","type":"nominal","sort":["HSC","Progenitor","GMP","Promono","Monocyte"],"scale":{"paddingInner":0,"paddingOuter":0},"title":null,"axis":{"orient":"right","domain":false,"ticks":false,"labelFontSize":8,"labelColor":"#333333","labelPadding":3}},
"fill":{"field":"v","type":"quantitative","scale":{"scheme":"viridis","domain":[-2.15,2.15]},"legend":{"orient":"none","legendX":247,"legendY":-10,"title":null,"gradientLength":110,"gradientThickness":10,"values":[-2,-1,0,1,2],"labelFontSize":8,"labelColor":"#333333","labelOverlap":false,"direction":"vertical","gradientStrokeWidth":0}}}}
]},
{"width":396,"height":1,"data":{"values":[]},"mark":"point","encoding":{}},
{"bounds":"flush","spacing":0,"resolve":{"scale":{"color":"independent","fill":"independent","stroke":"independent","xOffset":"independent","shape":"independent","size":"independent"}},
"title":{"text":"D","anchor":"start","frame":"group","fontSize":17,"offset":0,"dx":-19,"dy":34,"baseline":"alphabetic"},
"vconcat":[
{"width":1,"height":21,"data":{"values":[]},"mark":"point","encoding":{}},
{"bounds":"flush","spacing":0,"resolve":{"scale":{"color":"independent","fill":"independent","stroke":"independent","xOffset":"independent","shape":"independent","size":"independent"}},
"hconcat":[
{"width":112,"height":172,"title":{"text":"HSC-Progenitor-like","fontSize":12,"offset":2,"dy":15,"baseline":"alphabetic"},
"resolve":{"scale":{"xOffset":"independent"}},
"layer":[
{"data":{"name":"bD1"},"mark":{"type":"rule","color":"#444444","strokeWidth":0.7},
"encoding":{"x":{"field":"a","type":"nominal","scale":{"type":"point","domain":["CD34+CD38-","CD34+CD38+","CD34-CD38+","CD34-CD38-"],"padding":0.6},"title":null,"axis":{"labels":false}},"x2":{"field":"b"},
"y":{"field":"y","type":"quantitative","scale":{"domain":[1.868,2.517],"nice":false,"zero":false},"title":"GSVA score","axis":{"values":[2.0,2.2,2.4],"format":".1f"}}}},
{"data":{"name":"bD1"},"transform":[{"fold":["a","b"],"as":["k","e"]}],"mark":{"type":"rule","color":"#444444","strokeWidth":0.7,"y2Offset":4},
"encoding":{"x":{"field":"e","type":"nominal","scale":{"type":"point","domain":["CD34+CD38-","CD34+CD38+","CD34-CD38+","CD34-CD38-"],"padding":0.6},"title":null,"axis":{"labels":false}},
"y":{"field":"y","type":"quantitative","scale":{"domain":[1.868,2.517],"nice":false,"zero":false},"title":"GSVA score","axis":{"values":[2.0,2.2,2.4],"format":".1f"}},"y2":{"field":"y"}}},
{"data":{"name":"bD1"},"mark":{"type":"text","fontSize":8.5,"dy":-2,"baseline":"alphabetic","color":"#222222"},
"encoding":{"x":{"field":"a","type":"nominal","scale":{"type":"point","domain":["CD34+CD38-","CD34+CD38+","CD34-CD38+","CD34-CD38-"],"padding":0.6},"title":null,"axis":{"labels":false}},
"xOffset":{"field":"s","type":"quantitative","scale":{"domain":[0,3],"range":[0,40]}},
"y":{"field":"y","type":"quantitative","scale":{"domain":[1.868,2.517],"nice":false,"zero":false},"title":"GSVA score","axis":{"values":[2.0,2.2,2.4],"format":".1f"}},"text":{"field":"l"}}},
{"data":{"name":"d1"},"transform":[{"density":"v","groupby":["f"],"steps":200,"as":["v","d"]},{"joinaggregate":[{"op":"max","field":"d","as":"m"}],"groupby":["f"]},{"filter":"datum.d > 0.08 * datum.m"}],
"mark":{"type":"line","strokeWidth":1},
"encoding":{"x":{"field":"f","type":"nominal","scale":{"type":"point","domain":["CD34+CD38-","CD34+CD38+","CD34-CD38+","CD34-CD38-"],"padding":0.6},"title":null,"axis":{"labels":false}},
"xOffset":{"field":"d","type":"quantitative","scale":{"range":[0,9]}},
"y":{"field":"v","type":"quantitative","scale":{"domain":[1.868,2.517],"nice":false,"zero":false},"title":"GSVA score","axis":{"values":[2.0,2.2,2.4],"format":".1f"}},
"order":{"field":"v","type":"quantitative"},
"stroke":{"field":"f","type":"nominal","scale":{"range":["#0000ff","#ff0000","#000000","#bebebe"]},"legend":null}}},
{"data":{"name":"d1"},"transform":[{"density":"v","groupby":["f"],"steps":200,"as":["v","d"]},{"joinaggregate":[{"op":"max","field":"d","as":"m"}],"groupby":["f"]},{"filter":"datum.d > 0.08 * datum.m"}],
"mark":{"type":"line","strokeWidth":1},
"encoding":{"x":{"field":"f","type":"nominal","scale":{"type":"point","domain":["CD34+CD38-","CD34+CD38+","CD34-CD38+","CD34-CD38-"],"padding":0.6},"title":null,"axis":{"labels":false}},
"xOffset":{"field":"d","type":"quantitative","scale":{"range":[0,-9]}},
"y":{"field":"v","type":"quantitative","scale":{"domain":[1.868,2.517],"nice":false,"zero":false},"title":"GSVA score","axis":{"values":[2.0,2.2,2.4],"format":".1f"}},
"order":{"field":"v","type":"quantitative"},
"color":{"field":"f","type":"nominal","scale":{"range":["#0000ff","#ff0000","#000000","#bebebe"]},"legend":null}}},
{"data":{"name":"d1"},"mark":{"type":"point","filled":true,"size":16,"opacity":1},
"encoding":{"x":{"field":"f","type":"nominal","scale":{"type":"point","domain":["CD34+CD38-","CD34+CD38+","CD34-CD38+","CD34-CD38-"],"padding":0.6},"title":null,"axis":{"labels":false}},
"y":{"field":"v","type":"quantitative","scale":{"domain":[1.868,2.517],"nice":false,"zero":false},"title":"GSVA score","axis":{"values":[2.0,2.2,2.4],"format":".1f"}},
"fill":{"field":"f","type":"nominal","scale":{"domain":["CD34+CD38-","CD34+CD38+","CD34-CD38+","CD34-CD38-"],"range":["#ff0000","#0000ff","#000000","#bebebe"]},"legend":null}}}
]},
{"width":46,"height":1,"data":{"values":[]},"mark":"point","encoding":{}},
{"width":105,"height":172,"title":{"text":"Myeloid-like","fontSize":12,"offset":2,"dy":15,"baseline":"alphabetic"},
"resolve":{"scale":{"xOffset":"independent"}},
"layer":[
{"data":{"name":"bD2"},"mark":{"type":"rule","color":"#444444","strokeWidth":0.7},
"encoding":{"x":{"field":"a","type":"nominal","scale":{"type":"point","domain":["CD34+CD38-","CD34+CD38+","CD34-CD38+","CD34-CD38-"],"padding":0.6},"title":null,"axis":{"labels":false}},"x2":{"field":"b"},
"y":{"field":"y","type":"quantitative","scale":{"domain":[1.633,3.037],"nice":false,"zero":false},"title":"GSVA score","axis":{"values":[2.0,2.4,2.8],"format":".1f"}}}},
{"data":{"name":"bD2"},"transform":[{"fold":["a","b"],"as":["k","e"]}],"mark":{"type":"rule","color":"#444444","strokeWidth":0.7,"y2Offset":4},
"encoding":{"x":{"field":"e","type":"nominal","scale":{"type":"point","domain":["CD34+CD38-","CD34+CD38+","CD34-CD38+","CD34-CD38-"],"padding":0.6},"title":null,"axis":{"labels":false}},
"y":{"field":"y","type":"quantitative","scale":{"domain":[1.633,3.037],"nice":false,"zero":false},"title":"GSVA score","axis":{"values":[2.0,2.4,2.8],"format":".1f"}},"y2":{"field":"y"}}},
{"data":{"name":"bD2"},"mark":{"type":"text","fontSize":8.5,"dy":-2,"baseline":"alphabetic","color":"#222222"},
"encoding":{"x":{"field":"a","type":"nominal","scale":{"type":"point","domain":["CD34+CD38-","CD34+CD38+","CD34-CD38+","CD34-CD38-"],"padding":0.6},"title":null,"axis":{"labels":false}},
"xOffset":{"field":"s","type":"quantitative","scale":{"domain":[0,3],"range":[0,37.5]}},
"y":{"field":"y","type":"quantitative","scale":{"domain":[1.633,3.037],"nice":false,"zero":false},"title":"GSVA score","axis":{"values":[2.0,2.4,2.8],"format":".1f"}},"text":{"field":"l"}}},
{"data":{"name":"d2"},"transform":[{"density":"v","groupby":["f"],"steps":200,"as":["v","d"]},{"joinaggregate":[{"op":"max","field":"d","as":"m"}],"groupby":["f"]},{"filter":"datum.d > 0.08 * datum.m"}],
"mark":{"type":"line","strokeWidth":1},
"encoding":{"x":{"field":"f","type":"nominal","scale":{"type":"point","domain":["CD34+CD38-","CD34+CD38+","CD34-CD38+","CD34-CD38-"],"padding":0.6},"title":null,"axis":{"labels":false}},
"xOffset":{"field":"d","type":"quantitative","scale":{"range":[0,11]}},
"y":{"field":"v","type":"quantitative","scale":{"domain":[1.633,3.037],"nice":false,"zero":false},"title":"GSVA score","axis":{"values":[2.0,2.4,2.8],"format":".1f"}},
"order":{"field":"v","type":"quantitative"},
"stroke":{"field":"f","type":"nominal","scale":{"range":["#0000ff","#ff0000","#000000","#bebebe"]},"legend":null}}},
{"data":{"name":"d2"},"transform":[{"density":"v","groupby":["f"],"steps":200,"as":["v","d"]},{"joinaggregate":[{"op":"max","field":"d","as":"m"}],"groupby":["f"]},{"filter":"datum.d > 0.08 * datum.m"}],
"mark":{"type":"line","strokeWidth":1},
"encoding":{"x":{"field":"f","type":"nominal","scale":{"type":"point","domain":["CD34+CD38-","CD34+CD38+","CD34-CD38+","CD34-CD38-"],"padding":0.6},"title":null,"axis":{"labels":false}},
"xOffset":{"field":"d","type":"quantitative","scale":{"range":[0,-11]}},
"y":{"field":"v","type":"quantitative","scale":{"domain":[1.633,3.037],"nice":false,"zero":false},"title":"GSVA score","axis":{"values":[2.0,2.4,2.8],"format":".1f"}},
"order":{"field":"v","type":"quantitative"},
"color":{"field":"f","type":"nominal","scale":{"range":["#0000ff","#ff0000","#000000","#bebebe"]},"legend":null}}},
{"data":{"name":"d2"},"mark":{"type":"point","filled":true,"size":16,"opacity":1},
"encoding":{"x":{"field":"f","type":"nominal","scale":{"type":"point","domain":["CD34+CD38-","CD34+CD38+","CD34-CD38+","CD34-CD38-"],"padding":0.6},"title":null,"axis":{"labels":false}},
"y":{"field":"v","type":"quantitative","scale":{"domain":[1.633,3.037],"nice":false,"zero":false},"title":"GSVA score","axis":{"values":[2.0,2.4,2.8],"format":".1f"}},
"fill":{"field":"f","type":"nominal","scale":{"domain":["CD34+CD38-","CD34+CD38+","CD34-CD38+","CD34-CD38-"],"range":["#ff0000","#0000ff","#000000","#bebebe"]},
"legend":{"orient":"none","legendX":122,"legendY":43,"title":"fraction","titleFontSize":11,"titlePadding":5,"symbolType":"M -1 -1 L 1 -1 L 1 1 L -1 1 Z M -0.86 -0.86 L -0.86 0.86 L 0.86 0.86 L 0.86 -0.86 Z M -0.32 0 A 0.32 0.32 0 1 0 0.32 0 A 0.32 0.32 0 1 0 -0.32 0 Z","symbolSize":196,"symbolStrokeWidth":0,"labelFontSize":9.5,"labelOffset":6,"rowPadding":2.7}}}}
]}
]}
]}
]},
{"width":1,"height":239,"data":{"values":[]},"mark":"point","encoding":{}},
{"bounds":"flush","spacing":0,"resolve":{"scale":{"color":"independent","fill":"independent","stroke":"independent","xOffset":"independent","shape":"independent","size":"independent"}},
"hconcat":[
{"width":39,"height":1,"data":{"values":[]},"mark":"point","encoding":{},"title":{"text":"E","anchor":"start","frame":"group","fontSize":17,"offset":0,"dx":13,"dy":7,"baseline":"alphabetic"}},
{"bounds":"flush","spacing":0,"resolve":{"scale":{"color":"independent","fill":"independent","stroke":"independent","xOffset":"independent","shape":"independent","size":"independent"}},
"title":{"text":"To 138 LSC+ fractions","fontSize":12,"anchor":"start","frame":"group","offset":10,"dx":98,"dy":15,"baseline":"alphabetic"},
"vconcat":[
{"width":1,"height":13,"data":{"values":[]},"mark":"point","encoding":{}},
{"bounds":"flush","spacing":0,"resolve":{"scale":{"color":"independent","fill":"independent","stroke":"independent","xOffset":"independent","shape":"independent","size":"independent"}},
"hconcat":[
{"width":116,"height":143,"resolve":{"scale":{"xOffset":"independent"}},
"layer":[
{"data":{"name":"bE"},"mark":{"type":"rule","color":"#444444","strokeWidth":0.7},
"encoding":{"x":{"field":"a","type":"nominal","scale":{"type":"point","domain":["CD34+CD38-","CD34+CD38+","CD34-CD38+","CD34-CD38-"],"padding":0.6},"title":null,"axis":{"labelAngle":270,"labelFontSize":10,"labelColor":"#222222"}},"x2":{"field":"b"},
"y":{"field":"y","type":"quantitative","scale":{"domain":[0.206,1.248],"nice":false,"zero":false},"title":"Spearman coefficient","axis":{"values":[0.25,0.5,0.75,1.0],"format":".2f"}}}},
{"data":{"name":"bE"},"transform":[{"fold":["a","b"],"as":["k","e"]}],"mark":{"type":"rule","color":"#444444","strokeWidth":0.7,"y2Offset":4},
"encoding":{"x":{"field":"e","type":"nominal","scale":{"type":"point","domain":["CD34+CD38-","CD34+CD38+","CD34-CD38+","CD34-CD38-"],"padding":0.6},"title":null,"axis":{"labelAngle":270,"labelFontSize":10,"labelColor":"#222222"}},
"y":{"field":"y","type":"quantitative","scale":{"domain":[0.206,1.248],"nice":false,"zero":false},"title":"Spearman coefficient","axis":{"values":[0.25,0.5,0.75,1.0],"format":".2f"}},"y2":{"field":"y"}}},
{"data":{"name":"bE"},"mark":{"type":"text","fontSize":8.5,"dy":-2,"baseline":"alphabetic","color":"#222222"},
"encoding":{"x":{"field":"a","type":"nominal","scale":{"type":"point","domain":["CD34+CD38-","CD34+CD38+","CD34-CD38+","CD34-CD38-"],"padding":0.6},"title":null,"axis":{"labelAngle":270,"labelFontSize":10,"labelColor":"#222222"}},
"xOffset":{"field":"s","type":"quantitative","scale":{"domain":[0,3],"range":[0,41.4]}},
"y":{"field":"y","type":"quantitative","scale":{"domain":[0.206,1.248],"nice":false,"zero":false},"title":"Spearman coefficient","axis":{"values":[0.25,0.5,0.75,1.0],"format":".2f"}},"text":{"field":"l"}}},
{"data":{"name":"ev"},"transform":[{"density":"v","groupby":["f"],"steps":200,"as":["v","d"]},{"joinaggregate":[{"op":"max","field":"d","as":"m"}],"groupby":["f"]},{"filter":"datum.d > 0.08 * datum.m"}],
"mark":{"type":"line","strokeWidth":1},
"encoding":{"x":{"field":"f","type":"nominal","scale":{"type":"point","domain":["CD34+CD38-","CD34+CD38+","CD34-CD38+","CD34-CD38-"],"padding":0.6},"title":null,"axis":{"labelAngle":270,"labelFontSize":10,"labelColor":"#222222"}},
"xOffset":{"field":"d","type":"quantitative","scale":{"range":[0,12]}},
"y":{"field":"v","type":"quantitative","scale":{"domain":[0.206,1.248],"nice":false,"zero":false},"title":"Spearman coefficient","axis":{"values":[0.25,0.5,0.75,1.0],"format":".2f"}},
"order":{"field":"v","type":"quantitative"},
"stroke":{"field":"f","type":"nominal","scale":{"range":["#0000ff","#ff0000","#000000","#bebebe"]},"legend":null}}},
{"data":{"name":"ev"},"transform":[{"density":"v","groupby":["f"],"steps":200,"as":["v","d"]},{"joinaggregate":[{"op":"max","field":"d","as":"m"}],"groupby":["f"]},{"filter":"datum.d > 0.08 * datum.m"}],
"mark":{"type":"line","strokeWidth":1},
"encoding":{"x":{"field":"f","type":"nominal","scale":{"type":"point","domain":["CD34+CD38-","CD34+CD38+","CD34-CD38+","CD34-CD38-"],"padding":0.6},"title":null,"axis":{"labelAngle":270,"labelFontSize":10,"labelColor":"#222222"}},
"xOffset":{"field":"d","type":"quantitative","scale":{"range":[0,-12]}},
"y":{"field":"v","type":"quantitative","scale":{"domain":[0.206,1.248],"nice":false,"zero":false},"title":"Spearman coefficient","axis":{"values":[0.25,0.5,0.75,1.0],"format":".2f"}},
"order":{"field":"v","type":"quantitative"},
"color":{"field":"f","type":"nominal","scale":{"range":["#0000ff","#ff0000","#000000","#bebebe"]},"legend":null}}},
{"data":{"name":"ev"},"mark":{"type":"point","filled":true,"size":16,"opacity":1},
"encoding":{"x":{"field":"f","type":"nominal","scale":{"type":"point","domain":["CD34+CD38-","CD34+CD38+","CD34-CD38+","CD34-CD38-"],"padding":0.6},"title":null,"axis":{"labelAngle":270,"labelFontSize":10,"labelColor":"#222222"}},
"y":{"field":"v","type":"quantitative","scale":{"domain":[0.206,1.248],"nice":false,"zero":false},"title":"Spearman coefficient","axis":{"values":[0.25,0.5,0.75,1.0],"format":".2f"}},
"fill":{"field":"f","type":"nominal","scale":{"domain":["CD34+CD38-","CD34+CD38+","CD34-CD38+","CD34-CD38-"],"range":["#ff0000","#0000ff","#000000","#bebebe"]},"legend":null}}}
]},
{"width":48,"height":1,"data":{"values":[]},"mark":"point","encoding":{}},
{"width":115,"height":143,"resolve":{"scale":{"xOffset":"independent"}},
"layer":[
{"data":{"name":"bE"},"mark":{"type":"rule","color":"#444444","strokeWidth":0.7},
"encoding":{"x":{"field":"a","type":"nominal","scale":{"type":"point","domain":["CD34+CD38-","CD34+CD38+","CD34-CD38+","CD34-CD38-"],"padding":0.6},"title":null,"axis":{"labelAngle":270,"labelFontSize":10,"labelColor":"#222222"}},"x2":{"field":"b"},
"y":{"field":"y","type":"quantitative","scale":{"domain":[0.206,1.248],"nice":false,"zero":false},"title":"Spearman coefficient","axis":{"values":[0.25,0.5,0.75,1.0],"format":".2f"}}}},
{"data":{"name":"bE"},"transform":[{"fold":["a","b"],"as":["k","e"]}],"mark":{"type":"rule","color":"#444444","strokeWidth":0.7,"y2Offset":4},
"encoding":{"x":{"field":"e","type":"nominal","scale":{"type":"point","domain":["CD34+CD38-","CD34+CD38+","CD34-CD38+","CD34-CD38-"],"padding":0.6},"title":null,"axis":{"labelAngle":270,"labelFontSize":10,"labelColor":"#222222"}},
"y":{"field":"y","type":"quantitative","scale":{"domain":[0.206,1.248],"nice":false,"zero":false},"title":"Spearman coefficient","axis":{"values":[0.25,0.5,0.75,1.0],"format":".2f"}},"y2":{"field":"y"}}},
{"data":{"name":"bE"},"mark":{"type":"text","fontSize":8.5,"dy":-2,"baseline":"alphabetic","color":"#222222"},
"encoding":{"x":{"field":"a","type":"nominal","scale":{"type":"point","domain":["CD34+CD38-","CD34+CD38+","CD34-CD38+","CD34-CD38-"],"padding":0.6},"title":null,"axis":{"labelAngle":270,"labelFontSize":10,"labelColor":"#222222"}},
"xOffset":{"field":"s","type":"quantitative","scale":{"domain":[0,3],"range":[0,41.1]}},
"y":{"field":"y","type":"quantitative","scale":{"domain":[0.206,1.248],"nice":false,"zero":false},"title":"Spearman coefficient","axis":{"values":[0.25,0.5,0.75,1.0],"format":".2f"}},"text":{"field":"l"}}},
{"data":{"name":"ev"},"mark":{"type":"point","filled":true,"size":22,"opacity":1},
"encoding":{"x":{"field":"f","type":"nominal","scale":{"type":"point","domain":["CD34+CD38-","CD34+CD38+","CD34-CD38+","CD34-CD38-"],"padding":0.6},"title":null,"axis":{"labelAngle":270,"labelFontSize":10,"labelColor":"#222222"}},
"y":{"field":"v","type":"quantitative","scale":{"domain":[0.206,1.248],"nice":false,"zero":false},"title":"Spearman coefficient","axis":{"values":[0.25,0.5,0.75,1.0],"format":".2f"}},
"fill":{"field":"t","type":"nominal","scale":{"domain":[0,12,60,90],"range":["#000000","#87ceeb","#a020f0","#ffb6c1"]},
"legend":{"orient":"none","legendX":130,"legendY":-7,"title":["Time","(days)"],"titleFontSize":11.5,"titleAlign":"center","titleAnchor":"middle","titlePadding":8,"symbolType":"circle","symbolSize":28,"symbolStrokeWidth":0,"labelFontSize":10,"labelOffset":10,"rowPadding":5}}}}
]}
]}
]},
{"width":393,"height":1,"data":{"values":[]},"mark":"point","encoding":{},"title":{"text":"F","anchor":"start","frame":"group","fontSize":17,"offset":0,"dx":388,"dy":7,"baseline":"alphabetic"}},
{"width":112,"height":158,"title":{"text":"LSC17 Score","fontSize":12,"offset":10,"dy":15,"baseline":"alphabetic"},
"resolve":{"scale":{"xOffset":"independent"}},
"layer":[
{"data":{"name":"bF"},"mark":{"type":"rule","color":"#444444","strokeWidth":0.7},
"encoding":{"x":{"field":"a","type":"nominal","scale":{"type":"point","domain":["CD34+CD38-","CD34+CD38+","CD34-CD38+","CD34-CD38-"],"padding":0.6},"title":null,"axis":{"labelAngle":270,"labelFontSize":10,"labelColor":"#222222"}},"x2":{"field":"b"},
"y":{"field":"y","type":"quantitative","scale":{"domain":[0.913,2.888],"nice":false,"zero":false},"title":"LSC17 score","axis":{"values":[1.0,1.5,2.0,2.5],"format":".1f"}}}},
{"data":{"name":"bF"},"transform":[{"fold":["a","b"],"as":["k","e"]}],"mark":{"type":"rule","color":"#444444","strokeWidth":0.7,"y2Offset":4},
"encoding":{"x":{"field":"e","type":"nominal","scale":{"type":"point","domain":["CD34+CD38-","CD34+CD38+","CD34-CD38+","CD34-CD38-"],"padding":0.6},"title":null,"axis":{"labelAngle":270,"labelFontSize":10,"labelColor":"#222222"}},
"y":{"field":"y","type":"quantitative","scale":{"domain":[0.913,2.888],"nice":false,"zero":false},"title":"LSC17 score","axis":{"values":[1.0,1.5,2.0,2.5],"format":".1f"}},"y2":{"field":"y"}}},
{"data":{"name":"bF"},"mark":{"type":"text","fontSize":8.5,"dy":-2,"baseline":"alphabetic","color":"#222222"},
"encoding":{"x":{"field":"a","type":"nominal","scale":{"type":"point","domain":["CD34+CD38-","CD34+CD38+","CD34-CD38+","CD34-CD38-"],"padding":0.6},"title":null,"axis":{"labelAngle":270,"labelFontSize":10,"labelColor":"#222222"}},
"xOffset":{"field":"s","type":"quantitative","scale":{"domain":[0,3],"range":[0,40]}},
"y":{"field":"y","type":"quantitative","scale":{"domain":[0.913,2.888],"nice":false,"zero":false},"title":"LSC17 score","axis":{"values":[1.0,1.5,2.0,2.5],"format":".1f"}},"text":{"field":"l"}}},
{"data":{"name":"fv"},"transform":[{"density":"v","groupby":["f"],"steps":200,"as":["v","d"]},{"joinaggregate":[{"op":"max","field":"d","as":"m"}],"groupby":["f"]},{"filter":"datum.d > 0.08 * datum.m"}],
"mark":{"type":"line","strokeWidth":1},
"encoding":{"x":{"field":"f","type":"nominal","scale":{"type":"point","domain":["CD34+CD38-","CD34+CD38+","CD34-CD38+","CD34-CD38-"],"padding":0.6},"title":null,"axis":{"labelAngle":270,"labelFontSize":10,"labelColor":"#222222"}},
"xOffset":{"field":"d","type":"quantitative","scale":{"range":[0,10]}},
"y":{"field":"v","type":"quantitative","scale":{"domain":[0.913,2.888],"nice":false,"zero":false},"title":"LSC17 score","axis":{"values":[1.0,1.5,2.0,2.5],"format":".1f"}},
"order":{"field":"v","type":"quantitative"},
"stroke":{"field":"f","type":"nominal","scale":{"range":["#0000ff","#ff0000","#000000","#bebebe"]},"legend":null}}},
{"data":{"name":"fv"},"transform":[{"density":"v","groupby":["f"],"steps":200,"as":["v","d"]},{"joinaggregate":[{"op":"max","field":"d","as":"m"}],"groupby":["f"]},{"filter":"datum.d > 0.08 * datum.m"}],
"mark":{"type":"line","strokeWidth":1},
"encoding":{"x":{"field":"f","type":"nominal","scale":{"type":"point","domain":["CD34+CD38-","CD34+CD38+","CD34-CD38+","CD34-CD38-"],"padding":0.6},"title":null,"axis":{"labelAngle":270,"labelFontSize":10,"labelColor":"#222222"}},
"xOffset":{"field":"d","type":"quantitative","scale":{"range":[0,-10]}},
"y":{"field":"v","type":"quantitative","scale":{"domain":[0.913,2.888],"nice":false,"zero":false},"title":"LSC17 score","axis":{"values":[1.0,1.5,2.0,2.5],"format":".1f"}},
"order":{"field":"v","type":"quantitative"},
"color":{"field":"f","type":"nominal","scale":{"range":["#0000ff","#ff0000","#000000","#bebebe"]},"legend":null}}},
{"data":{"name":"fv"},"mark":{"type":"point","filled":true,"size":16,"opacity":1},
"encoding":{"x":{"field":"f","type":"nominal","scale":{"type":"point","domain":["CD34+CD38-","CD34+CD38+","CD34-CD38+","CD34-CD38-"],"padding":0.6},"title":null,"axis":{"labelAngle":270,"labelFontSize":10,"labelColor":"#222222"}},
"y":{"field":"v","type":"quantitative","scale":{"domain":[0.913,2.888],"nice":false,"zero":false},"title":"LSC17 score","axis":{"values":[1.0,1.5,2.0,2.5],"format":".1f"}},
"fill":{"field":"f","type":"nominal","scale":{"domain":["CD34+CD38-","CD34+CD38+","CD34-CD38+","CD34-CD38-"],"range":["#ff0000","#0000ff","#000000","#bebebe"]},"legend":null}}}
]},
{"width":45,"height":1,"data":{"values":[]},"mark":"point","encoding":{},"title":{"text":"G","anchor":"start","frame":"group","fontSize":17,"offset":0,"dx":19,"dy":7,"baseline":"alphabetic"}},
{"width":118,"height":158,"title":{"text":"LSC-R","fontSize":12,"offset":10,"dy":15,"baseline":"alphabetic"},
"resolve":{"scale":{"xOffset":"independent"}},
"layer":[
{"data":{"name":"bG"},"mark":{"type":"rule","color":"#444444","strokeWidth":0.7},
"encoding":{"x":{"field":"a","type":"nominal","scale":{"type":"point","domain":["CD34+CD38-","CD34+CD38+","CD34-CD38+","CD34-CD38-"],"padding":0.6},"title":null,"axis":{"labelAngle":270,"labelFontSize":10,"labelColor":"#222222"}},"x2":{"field":"b"},
"y":{"field":"y","type":"quantitative","scale":{"domain":[3.928,4.472],"nice":false,"zero":false},"title":"GSVA score","axis":{"values":[4.0,4.1,4.2,4.3,4.4],"format":".1f"}}}},
{"data":{"name":"bG"},"transform":[{"fold":["a","b"],"as":["k","e"]}],"mark":{"type":"rule","color":"#444444","strokeWidth":0.7,"y2Offset":4},
"encoding":{"x":{"field":"e","type":"nominal","scale":{"type":"point","domain":["CD34+CD38-","CD34+CD38+","CD34-CD38+","CD34-CD38-"],"padding":0.6},"title":null,"axis":{"labelAngle":270,"labelFontSize":10,"labelColor":"#222222"}},
"y":{"field":"y","type":"quantitative","scale":{"domain":[3.928,4.472],"nice":false,"zero":false},"title":"GSVA score","axis":{"values":[4.0,4.1,4.2,4.3,4.4],"format":".1f"}},"y2":{"field":"y"}}},
{"data":{"name":"bG"},"mark":{"type":"text","fontSize":8.5,"dy":-2,"baseline":"alphabetic","color":"#222222"},
"encoding":{"x":{"field":"a","type":"nominal","scale":{"type":"point","domain":["CD34+CD38-","CD34+CD38+","CD34-CD38+","CD34-CD38-"],"padding":0.6},"title":null,"axis":{"labelAngle":270,"labelFontSize":10,"labelColor":"#222222"}},
"xOffset":{"field":"s","type":"quantitative","scale":{"domain":[0,3],"range":[0,42.1]}},
"y":{"field":"y","type":"quantitative","scale":{"domain":[3.928,4.472],"nice":false,"zero":false},"title":"GSVA score","axis":{"values":[4.0,4.1,4.2,4.3,4.4],"format":".1f"}},"text":{"field":"l"}}},
{"data":{"name":"gv"},"transform":[{"density":"v","groupby":["f"],"steps":200,"as":["v","d"]},{"joinaggregate":[{"op":"max","field":"d","as":"m"}],"groupby":["f"]},{"filter":"datum.d > 0.08 * datum.m"}],
"mark":{"type":"line","strokeWidth":1},
"encoding":{"x":{"field":"f","type":"nominal","scale":{"type":"point","domain":["CD34+CD38-","CD34+CD38+","CD34-CD38+","CD34-CD38-"],"padding":0.6},"title":null,"axis":{"labelAngle":270,"labelFontSize":10,"labelColor":"#222222"}},
"xOffset":{"field":"d","type":"quantitative","scale":{"range":[0,11]}},
"y":{"field":"v","type":"quantitative","scale":{"domain":[3.928,4.472],"nice":false,"zero":false},"title":"GSVA score","axis":{"values":[4.0,4.1,4.2,4.3,4.4],"format":".1f"}},
"order":{"field":"v","type":"quantitative"},
"stroke":{"field":"f","type":"nominal","scale":{"range":["#0000ff","#ff0000","#000000","#bebebe"]},"legend":null}}},
{"data":{"name":"gv"},"transform":[{"density":"v","groupby":["f"],"steps":200,"as":["v","d"]},{"joinaggregate":[{"op":"max","field":"d","as":"m"}],"groupby":["f"]},{"filter":"datum.d > 0.08 * datum.m"}],
"mark":{"type":"line","strokeWidth":1},
"encoding":{"x":{"field":"f","type":"nominal","scale":{"type":"point","domain":["CD34+CD38-","CD34+CD38+","CD34-CD38+","CD34-CD38-"],"padding":0.6},"title":null,"axis":{"labelAngle":270,"labelFontSize":10,"labelColor":"#222222"}},
"xOffset":{"field":"d","type":"quantitative","scale":{"range":[0,-11]}},
"y":{"field":"v","type":"quantitative","scale":{"domain":[3.928,4.472],"nice":false,"zero":false},"title":"GSVA score","axis":{"values":[4.0,4.1,4.2,4.3,4.4],"format":".1f"}},
"order":{"field":"v","type":"quantitative"},
"color":{"field":"f","type":"nominal","scale":{"range":["#0000ff","#ff0000","#000000","#bebebe"]},"legend":null}}},
{"data":{"name":"gv"},"mark":{"type":"point","filled":true,"size":16,"opacity":1},
"encoding":{"x":{"field":"f","type":"nominal","scale":{"type":"point","domain":["CD34+CD38-","CD34+CD38+","CD34-CD38+","CD34-CD38-"],"padding":0.6},"title":null,"axis":{"labelAngle":270,"labelFontSize":10,"labelColor":"#222222"}},
"y":{"field":"v","type":"quantitative","scale":{"domain":[3.928,4.472],"nice":false,"zero":false},"title":"GSVA score","axis":{"values":[4.0,4.1,4.2,4.3,4.4],"format":".1f"}},
"fill":{"field":"f","type":"nominal","scale":{"domain":["CD34+CD38-","CD34+CD38+","CD34-CD38+","CD34-CD38-"],"range":["#ff0000","#0000ff","#000000","#bebebe"]},
"legend":{"orient":"none","legendX":123,"legendY":23,"title":"fraction","titleFontSize":11,"titlePadding":5,"symbolType":"M -1 -1 L 1 -1 L 1 1 L -1 1 Z M -0.86 -0.86 L -0.86 0.86 L 0.86 0.86 L 0.86 -0.86 Z M -0.32 0 A 0.32 0.32 0 1 0 0.32 0 A 0.32 0.32 0 1 0 -0.32 0 Z","symbolSize":196,"symbolStrokeWidth":0,"labelFontSize":9.5,"labelOffset":6,"rowPadding":2.7}}}}
]}
]},
{"width":1,"height":307,"data":{"values":[]},"mark":"point","encoding":{}},
{"bounds":"flush","spacing":0,"resolve":{"scale":{"color":"independent","fill":"independent","stroke":"independent","xOffset":"independent","shape":"independent","size":"independent"}},
"hconcat":[
{"width":41,"height":1,"data":{"values":[]},"mark":"point","encoding":{},"title":{"text":"H","anchor":"start","frame":"group","fontSize":17,"offset":0,"dx":13,"dy":-7,"baseline":"alphabetic"}},
{"width":108,"height":158,"title":{"text":["To normal karyotypes","LSC+ fractions"],"fontSize":12,"offset":8,"dx":12,"dy":15,"lineHeight":14,"baseline":"alphabetic"},
"resolve":{"scale":{"xOffset":"independent"}},
"layer":[
{"data":{"name":"bH1"},"mark":{"type":"rule","color":"#444444","strokeWidth":0.7},
"encoding":{"x":{"field":"a","type":"nominal","scale":{"type":"point","domain":["CD34+CD38-","CD34+CD38+","CD34-CD38+","CD34-CD38-"],"padding":0.6},"title":"fractions","axis":{"labels":false,"titlePadding":4}},"x2":{"field":"b"},
"y":{"field":"y","type":"quantitative","scale":{"domain":[-0.05,1.256],"nice":false,"zero":false},"title":"Spearman coefficient","axis":{"values":[0,0.25,0.5,0.75,1.0],"format":".2f"}}}},
{"data":{"name":"bH1"},"transform":[{"fold":["a","b"],"as":["k","e"]}],"mark":{"type":"rule","color":"#444444","strokeWidth":0.7,"y2Offset":4},
"encoding":{"x":{"field":"e","type":"nominal","scale":{"type":"point","domain":["CD34+CD38-","CD34+CD38+","CD34-CD38+","CD34-CD38-"],"padding":0.6},"title":"fractions","axis":{"labels":false,"titlePadding":4}},
"y":{"field":"y","type":"quantitative","scale":{"domain":[-0.05,1.256],"nice":false,"zero":false},"title":"Spearman coefficient","axis":{"values":[0,0.25,0.5,0.75,1.0],"format":".2f"}},"y2":{"field":"y"}}},
{"data":{"name":"bH1"},"mark":{"type":"text","fontSize":8.5,"dy":-2,"baseline":"alphabetic","color":"#222222"},
"encoding":{"x":{"field":"a","type":"nominal","scale":{"type":"point","domain":["CD34+CD38-","CD34+CD38+","CD34-CD38+","CD34-CD38-"],"padding":0.6},"title":"fractions","axis":{"labels":false,"titlePadding":4}},
"xOffset":{"field":"s","type":"quantitative","scale":{"domain":[0,3],"range":[0,38.6]}},
"y":{"field":"y","type":"quantitative","scale":{"domain":[-0.05,1.256],"nice":false,"zero":false},"title":"Spearman coefficient","axis":{"values":[0,0.25,0.5,0.75,1.0],"format":".2f"}},"text":{"field":"l"}}},
{"data":{"name":"h1"},"transform":[{"density":"v","groupby":["f"],"steps":200,"as":["v","d"]},{"joinaggregate":[{"op":"max","field":"d","as":"m"}],"groupby":["f"]},{"filter":"datum.d > 0.08 * datum.m"}],
"mark":{"type":"line","strokeWidth":1},
"encoding":{"x":{"field":"f","type":"nominal","scale":{"type":"point","domain":["CD34+CD38-","CD34+CD38+","CD34-CD38+","CD34-CD38-"],"padding":0.6},"title":"fractions","axis":{"labels":false,"titlePadding":4}},
"xOffset":{"field":"d","type":"quantitative","scale":{"range":[0,12]}},
"y":{"field":"v","type":"quantitative","scale":{"domain":[-0.05,1.256],"nice":false,"zero":false},"title":"Spearman coefficient","axis":{"values":[0,0.25,0.5,0.75,1.0],"format":".2f"}},
"order":{"field":"v","type":"quantitative"},
"stroke":{"field":"f","type":"nominal","scale":{"range":["#0000ff","#ff0000","#000000","#bebebe"]},"legend":null}}},
{"data":{"name":"h1"},"transform":[{"density":"v","groupby":["f"],"steps":200,"as":["v","d"]},{"joinaggregate":[{"op":"max","field":"d","as":"m"}],"groupby":["f"]},{"filter":"datum.d > 0.08 * datum.m"}],
"mark":{"type":"line","strokeWidth":1},
"encoding":{"x":{"field":"f","type":"nominal","scale":{"type":"point","domain":["CD34+CD38-","CD34+CD38+","CD34-CD38+","CD34-CD38-"],"padding":0.6},"title":"fractions","axis":{"labels":false,"titlePadding":4}},
"xOffset":{"field":"d","type":"quantitative","scale":{"range":[0,-12]}},
"y":{"field":"v","type":"quantitative","scale":{"domain":[-0.05,1.256],"nice":false,"zero":false},"title":"Spearman coefficient","axis":{"values":[0,0.25,0.5,0.75,1.0],"format":".2f"}},
"order":{"field":"v","type":"quantitative"},
"color":{"field":"f","type":"nominal","scale":{"range":["#0000ff","#ff0000","#000000","#bebebe"]},"legend":null}}},
{"data":{"name":"h1"},"mark":{"type":"point","filled":true,"size":16,"opacity":1},
"encoding":{"x":{"field":"f","type":"nominal","scale":{"type":"point","domain":["CD34+CD38-","CD34+CD38+","CD34-CD38+","CD34-CD38-"],"padding":0.6},"title":"fractions","axis":{"labels":false,"titlePadding":4}},
"y":{"field":"v","type":"quantitative","scale":{"domain":[-0.05,1.256],"nice":false,"zero":false},"title":"Spearman coefficient","axis":{"values":[0,0.25,0.5,0.75,1.0],"format":".2f"}},
"fill":{"field":"f","type":"nominal","scale":{"domain":["CD34+CD38-","CD34+CD38+","CD34-CD38+","CD34-CD38-"],"range":["#ff0000","#0000ff","#000000","#bebebe"]},"legend":null}}}
]},
{"width":55,"height":1,"data":{"values":[]},"mark":"point","encoding":{}},
{"width":111,"height":158,"title":{"text":["To abnormal karyotypes","LSC+ fractions"],"fontSize":12,"offset":8,"dx":16,"dy":15,"lineHeight":14,"baseline":"alphabetic"},
"resolve":{"scale":{"xOffset":"independent"}},
"layer":[
{"data":{"name":"bH2"},"mark":{"type":"rule","color":"#444444","strokeWidth":0.7},
"encoding":{"x":{"field":"a","type":"nominal","scale":{"type":"point","domain":["CD34+CD38-","CD34+CD38+","CD34-CD38+","CD34-CD38-"],"padding":0.6},"title":"fractions","axis":{"labels":false,"titlePadding":4}},"x2":{"field":"b"},
"y":{"field":"y","type":"quantitative","scale":{"domain":[-0.05,1.256],"nice":false,"zero":false},"title":"Spearman coefficient","axis":{"values":[0,0.25,0.5,0.75,1.0],"format":".2f"}}}},
{"data":{"name":"bH2"},"transform":[{"fold":["a","b"],"as":["k","e"]}],"mark":{"type":"rule","color":"#444444","strokeWidth":0.7,"y2Offset":4},
"encoding":{"x":{"field":"e","type":"nominal","scale":{"type":"point","domain":["CD34+CD38-","CD34+CD38+","CD34-CD38+","CD34-CD38-"],"padding":0.6},"title":"fractions","axis":{"labels":false,"titlePadding":4}},
"y":{"field":"y","type":"quantitative","scale":{"domain":[-0.05,1.256],"nice":false,"zero":false},"title":"Spearman coefficient","axis":{"values":[0,0.25,0.5,0.75,1.0],"format":".2f"}},"y2":{"field":"y"}}},
{"data":{"name":"bH2"},"mark":{"type":"text","fontSize":8.5,"dy":-2,"baseline":"alphabetic","color":"#222222"},
"encoding":{"x":{"field":"a","type":"nominal","scale":{"type":"point","domain":["CD34+CD38-","CD34+CD38+","CD34-CD38+","CD34-CD38-"],"padding":0.6},"title":"fractions","axis":{"labels":false,"titlePadding":4}},
"xOffset":{"field":"s","type":"quantitative","scale":{"domain":[0,3],"range":[0,39.6]}},
"y":{"field":"y","type":"quantitative","scale":{"domain":[-0.05,1.256],"nice":false,"zero":false},"title":"Spearman coefficient","axis":{"values":[0,0.25,0.5,0.75,1.0],"format":".2f"}},"text":{"field":"l"}}},
{"data":{"name":"h2"},"transform":[{"density":"v","groupby":["f"],"steps":200,"as":["v","d"]},{"joinaggregate":[{"op":"max","field":"d","as":"m"}],"groupby":["f"]},{"filter":"datum.d > 0.08 * datum.m"}],
"mark":{"type":"line","strokeWidth":1},
"encoding":{"x":{"field":"f","type":"nominal","scale":{"type":"point","domain":["CD34+CD38-","CD34+CD38+","CD34-CD38+","CD34-CD38-"],"padding":0.6},"title":"fractions","axis":{"labels":false,"titlePadding":4}},
"xOffset":{"field":"d","type":"quantitative","scale":{"range":[0,12]}},
"y":{"field":"v","type":"quantitative","scale":{"domain":[-0.05,1.256],"nice":false,"zero":false},"title":"Spearman coefficient","axis":{"values":[0,0.25,0.5,0.75,1.0],"format":".2f"}},
"order":{"field":"v","type":"quantitative"},
"stroke":{"field":"f","type":"nominal","scale":{"range":["#0000ff","#ff0000","#000000","#bebebe"]},"legend":null}}},
{"data":{"name":"h2"},"transform":[{"density":"v","groupby":["f"],"steps":200,"as":["v","d"]},{"joinaggregate":[{"op":"max","field":"d","as":"m"}],"groupby":["f"]},{"filter":"datum.d > 0.08 * datum.m"}],
"mark":{"type":"line","strokeWidth":1},
"encoding":{"x":{"field":"f","type":"nominal","scale":{"type":"point","domain":["CD34+CD38-","CD34+CD38+","CD34-CD38+","CD34-CD38-"],"padding":0.6},"title":"fractions","axis":{"labels":false,"titlePadding":4}},
"xOffset":{"field":"d","type":"quantitative","scale":{"range":[0,-12]}},
"y":{"field":"v","type":"quantitative","scale":{"domain":[-0.05,1.256],"nice":false,"zero":false},"title":"Spearman coefficient","axis":{"values":[0,0.25,0.5,0.75,1.0],"format":".2f"}},
"order":{"field":"v","type":"quantitative"},
"color":{"field":"f","type":"nominal","scale":{"range":["#0000ff","#ff0000","#000000","#bebebe"]},"legend":null}}},
{"data":{"name":"h2"},"mark":{"type":"point","filled":true,"size":16,"opacity":1},
"encoding":{"x":{"field":"f","type":"nominal","scale":{"type":"point","domain":["CD34+CD38-","CD34+CD38+","CD34-CD38+","CD34-CD38-"],"padding":0.6},"title":"fractions","axis":{"labels":false,"titlePadding":4}},
"y":{"field":"v","type":"quantitative","scale":{"domain":[-0.05,1.256],"nice":false,"zero":false},"title":"Spearman coefficient","axis":{"values":[0,0.25,0.5,0.75,1.0],"format":".2f"}},
"fill":{"field":"f","type":"nominal","scale":{"domain":["CD34+CD38-","CD34+CD38+","CD34-CD38+","CD34-CD38-"],"range":["#ff0000","#0000ff","#000000","#bebebe"]},
"legend":{"orient":"none","legendX":129,"legendY":36,"title":"fraction","titleFontSize":11,"titlePadding":5,"symbolType":"M -1 -1 L 1 -1 L 1 1 L -1 1 Z M -0.88 -0.88 L -0.88 0.88 L 0.88 0.88 L 0.88 -0.88 Z M -0.3 0 A 0.3 0.3 0 1 0 0.3 0 A 0.3 0.3 0 1 0 -0.3 0 Z","symbolSize":256,"symbolStrokeWidth":0,"labelFontSize":9.5,"labelOffset":6,"rowPadding":1.5}}}}
]},
{"width":157,"height":1,"data":{"values":[]},"mark":"point","encoding":{},"title":{"text":"I","anchor":"start","frame":"group","fontSize":17,"offset":0,"dx":114,"dy":-8,"baseline":"alphabetic"}},
{"bounds":"flush","spacing":0,"resolve":{"scale":{"color":"independent","fill":"independent","stroke":"independent","xOffset":"independent","shape":"independent","size":"independent"}},
"title":{"text":"OCI-AML22 CD34+CD38-","fontSize":12,"anchor":"start","frame":"group","offset":14,"dx":66,"dy":15,"baseline":"alphabetic"},
"vconcat":[
{"width":1,"height":10,"data":{"values":[]},"mark":"point","encoding":{}},
{"bounds":"flush","spacing":0,"resolve":{"scale":{"color":"independent","fill":"independent","stroke":"independent","xOffset":"independent","shape":"independent","size":"independent"}},
"hconcat":[
{"width":110,"height":148,"resolve":{"scale":{"xOffset":"independent"}},
"layer":[
{"data":{"name":"bI"},"mark":{"type":"rule","color":"#444444","strokeWidth":0.7},
"encoding":{"x":{"field":"a","type":"nominal","scale":{"type":"point","domain":["High","Med","Low","None"],"padding":0.6},"axis":{"labelAngle":270,"labelFontSize":11,"labelColor":"#222222","title":["To reference","LSC frequency"],"titleX":-11,"titleY":3,"titleAlign":"right","titleBaseline":"top","titleAngle":0,"titleFontSize":11.5,"titleLineHeight":14}},"x2":{"field":"b"},
"y":{"field":"y","type":"quantitative","scale":{"domain":[-0.058,1.175],"nice":false,"zero":false},"title":"Spearman coefficient","axis":{"values":[0,0.25,0.5,0.75,1.0],"format":".2f"}}}},
{"data":{"name":"bI"},"transform":[{"fold":["a","b"],"as":["k","e"]}],"mark":{"type":"rule","color":"#444444","strokeWidth":0.7,"y2Offset":4},
"encoding":{"x":{"field":"e","type":"nominal","scale":{"type":"point","domain":["High","Med","Low","None"],"padding":0.6},"axis":{"labelAngle":270,"labelFontSize":11,"labelColor":"#222222","title":["To reference","LSC frequency"],"titleX":-11,"titleY":3,"titleAlign":"right","titleBaseline":"top","titleAngle":0,"titleFontSize":11.5,"titleLineHeight":14}},
"y":{"field":"y","type":"quantitative","scale":{"domain":[-0.058,1.175],"nice":false,"zero":false},"title":"Spearman coefficient","axis":{"values":[0,0.25,0.5,0.75,1.0],"format":".2f"}},"y2":{"field":"y"}}},
{"data":{"name":"bI"},"mark":{"type":"text","fontSize":8.5,"dy":-2,"baseline":"alphabetic","color":"#222222"},
"encoding":{"x":{"field":"a","type":"nominal","scale":{"type":"point","domain":["High","Med","Low","None"],"padding":0.6},"axis":{"labelAngle":270,"labelFontSize":11,"labelColor":"#222222","title":["To reference","LSC frequency"],"titleX":-11,"titleY":3,"titleAlign":"right","titleBaseline":"top","titleAngle":0,"titleFontSize":11.5,"titleLineHeight":14}},
"xOffset":{"field":"s","type":"quantitative","scale":{"domain":[0,3],"range":[0,39.3]}},
"y":{"field":"y","type":"quantitative","scale":{"domain":[-0.058,1.175],"nice":false,"zero":false},"title":"Spearman coefficient","axis":{"values":[0,0.25,0.5,0.75,1.0],"format":".2f"}},"text":{"field":"l"}}},
{"data":{"name":"iv"},"transform":[{"density":"v","groupby":["c"],"steps":200,"as":["v","d"]},{"joinaggregate":[{"op":"max","field":"d","as":"m"}],"groupby":["c"]},{"filter":"datum.d > 0.08 * datum.m"}],
"mark":{"type":"line","strokeWidth":1,"color":"#ff0000"},
"encoding":{"x":{"field":"c","type":"nominal","scale":{"type":"point","domain":["High","Med","Low","None"],"padding":0.6},"axis":{"labelAngle":270,"labelFontSize":11,"labelColor":"#222222","title":["To reference","LSC frequency"],"titleX":-11,"titleY":3,"titleAlign":"right","titleBaseline":"top","titleAngle":0,"titleFontSize":11.5,"titleLineHeight":14}},
"xOffset":{"field":"d","type":"quantitative","scale":{"range":[0,13]}},
"y":{"field":"v","type":"quantitative","scale":{"domain":[-0.058,1.175],"nice":false,"zero":false},"title":"Spearman coefficient","axis":{"values":[0,0.25,0.5,0.75,1.0],"format":".2f"}},
"order":{"field":"v","type":"quantitative"},"detail":{"field":"c"}}},
{"data":{"name":"iv"},"transform":[{"density":"v","groupby":["c"],"steps":200,"as":["v","d"]},{"joinaggregate":[{"op":"max","field":"d","as":"m"}],"groupby":["c"]},{"filter":"datum.d > 0.08 * datum.m"}],
"mark":{"type":"line","strokeWidth":1,"color":"#ff0000"},
"encoding":{"x":{"field":"c","type":"nominal","scale":{"type":"point","domain":["High","Med","Low","None"],"padding":0.6},"axis":{"labelAngle":270,"labelFontSize":11,"labelColor":"#222222","title":["To reference","LSC frequency"],"titleX":-11,"titleY":3,"titleAlign":"right","titleBaseline":"top","titleAngle":0,"titleFontSize":11.5,"titleLineHeight":14}},
"xOffset":{"field":"d","type":"quantitative","scale":{"range":[0,-13]}},
"y":{"field":"v","type":"quantitative","scale":{"domain":[-0.058,1.175],"nice":false,"zero":false},"title":"Spearman coefficient","axis":{"values":[0,0.25,0.5,0.75,1.0],"format":".2f"}},
"order":{"field":"v","type":"quantitative"},"detail":{"field":"c"}}},
{"data":{"name":"iv"},"mark":{"type":"point","filled":true,"size":16,"opacity":1,"color":"#ff0000"},
"encoding":{"x":{"field":"c","type":"nominal","scale":{"type":"point","domain":["High","Med","Low","None"],"padding":0.6},"axis":{"labelAngle":270,"labelFontSize":11,"labelColor":"#222222","title":["To reference","LSC frequency"],"titleX":-11,"titleY":3,"titleAlign":"right","titleBaseline":"top","titleAngle":0,"titleFontSize":11.5,"titleLineHeight":14}},
"y":{"field":"v","type":"quantitative","scale":{"domain":[-0.058,1.175],"nice":false,"zero":false},"title":"Spearman coefficient","axis":{"values":[0,0.25,0.5,0.75,1.0],"format":".2f"}}}}
]},
{"width":53,"height":1,"data":{"values":[]},"mark":"point","encoding":{}},
{"width":110,"height":148,"resolve":{"scale":{"xOffset":"independent"}},
"layer":[
{"data":{"name":"bI"},"mark":{"type":"rule","color":"#444444","strokeWidth":0.7},
"encoding":{"x":{"field":"a","type":"nominal","scale":{"type":"point","domain":["High","Med","Low","None"],"padding":0.6},"title":null,"axis":{"labelAngle":270,"labelFontSize":11,"labelColor":"#222222"}},"x2":{"field":"b"},
"y":{"field":"y","type":"quantitative","scale":{"domain":[-0.058,1.175],"nice":false,"zero":false},"title":"Spearman coefficient","axis":{"values":[0,0.25,0.5,0.75,1.0],"format":".2f"}}}},
{"data":{"name":"bI"},"transform":[{"fold":["a","b"],"as":["k","e"]}],"mark":{"type":"rule","color":"#444444","strokeWidth":0.7,"y2Offset":4},
"encoding":{"x":{"field":"e","type":"nominal","scale":{"type":"point","domain":["High","Med","Low","None"],"padding":0.6},"title":null,"axis":{"labelAngle":270,"labelFontSize":11,"labelColor":"#222222"}},
"y":{"field":"y","type":"quantitative","scale":{"domain":[-0.058,1.175],"nice":false,"zero":false},"title":"Spearman coefficient","axis":{"values":[0,0.25,0.5,0.75,1.0],"format":".2f"}},"y2":{"field":"y"}}},
{"data":{"name":"bI"},"mark":{"type":"text","fontSize":8.5,"dy":-2,"baseline":"alphabetic","color":"#222222"},
"encoding":{"x":{"field":"a","type":"nominal","scale":{"type":"point","domain":["High","Med","Low","None"],"padding":0.6},"title":null,"axis":{"labelAngle":270,"labelFontSize":11,"labelColor":"#222222"}},
"xOffset":{"field":"s","type":"quantitative","scale":{"domain":[0,3],"range":[0,39.3]}},
"y":{"field":"y","type":"quantitative","scale":{"domain":[-0.058,1.175],"nice":false,"zero":false},"title":"Spearman coefficient","axis":{"values":[0,0.25,0.5,0.75,1.0],"format":".2f"}},"text":{"field":"l"}}},
{"data":{"name":"iv"},"mark":{"type":"point","filled":true,"size":22,"opacity":1},
"encoding":{"x":{"field":"c","type":"nominal","scale":{"type":"point","domain":["High","Med","Low","None"],"padding":0.6},"title":null,"axis":{"labelAngle":270,"labelFontSize":11,"labelColor":"#222222"}},
"y":{"field":"v","type":"quantitative","scale":{"domain":[-0.058,1.175],"nice":false,"zero":false},"title":"Spearman coefficient","axis":{"values":[0,0.25,0.5,0.75,1.0],"format":".2f"}},
"fill":{"field":"t","type":"nominal","scale":{"domain":[0,12,60,90],"range":["#000000","#87ceeb","#a020f0","#ffb6c1"]},
"legend":{"orient":"none","legendX":128,"legendY":4,"title":["Time","(days)"],"titleFontSize":11.5,"titleAlign":"center","titleAnchor":"middle","titlePadding":8,"symbolType":"circle","symbolSize":28,"symbolStrokeWidth":0,"labelFontSize":10,"labelOffset":10,"rowPadding":5}}}}
]}
]}
]}
]}
]
}
